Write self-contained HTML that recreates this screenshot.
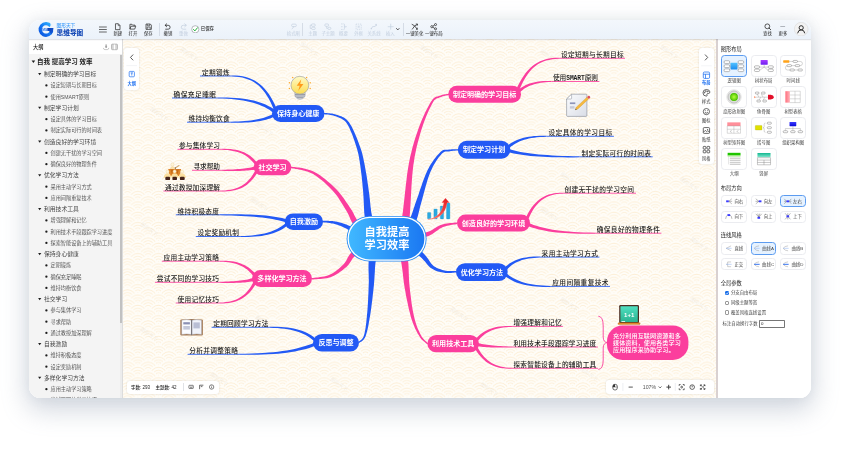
<!DOCTYPE html><html lang="zh-CN"><head><meta charset="utf-8"><title>思维导图</title><style>
*{box-sizing:border-box;margin:0;padding:0}
html,body{width:841px;height:449px;background:#fff;overflow:hidden}
body{font-family:'Liberation Sans','Noto Sans CJK SC',sans-serif;position:relative;color:#222}
.win{position:absolute;left:29px;top:19.5px;width:782px;height:378.7px;border-radius:11.5px;overflow:hidden;background:#fff;z-index:2}
.shadow{position:absolute;left:29px;top:19.5px;width:782px;height:378.7px;border-radius:11.5px;box-shadow:0 10px 26px 2px rgba(118,134,158,.33),0 0 12px rgba(130,145,170,.10);z-index:1}
.in{position:absolute;left:-29px;top:-19.5px;width:841px;height:449px;will-change:transform}
.a{position:absolute}
.tb{left:29px;top:19.5px;width:782px;height:19.7px;background:linear-gradient(#f3f7fc,#ebf2fa)}
.tbl{position:absolute;top:31.2px;width:30px;margin-left:-15px;text-align:center;font-size:4.4px;line-height:5px;color:#1d1d1d;white-space:nowrap}
.tbl.dis{color:#c3cfdf}
.ico{position:absolute;top:22.5px;width:7.4px;height:7.4px;margin-left:-3.7px}
.ico svg{width:7.4px;height:7.4px;display:block;overflow:visible}
.vd{position:absolute;top:22.5px;width:0.6px;height:13px;background:#d5dce6}
.lp{left:29px;top:39.4px;width:93px;height:360px;background:#f4f4f4}
.lph{left:29px;top:39.4px;width:93px;height:14.8px;background:#fff}
.row{position:absolute;white-space:nowrap;line-height:10px;height:10px}
.r0{font-size:6.5px;font-weight:700;color:#1a1a1a;left:37px}
.r1{font-size:5.8px;color:#444;left:44px}
.r2{font-size:5.15px;color:#555;left:50.6px}
.tri{position:absolute;width:0;height:0;border-left:1.7px solid transparent;border-right:1.7px solid transparent;border-top:2.6px solid #1f1f1f}
.dot{position:absolute;width:2.2px;height:2.2px;border-radius:50%;background:#1f1f1f}
.rp{left:717.8px;top:39.4px;width:94px;height:360px;background:#fff}
.h{position:absolute;left:720.7px;font-size:5.25px;font-weight:400;color:#222;line-height:7px;white-space:nowrap}
.tile{position:absolute;width:25.8px;height:21.8px;border:0.6px solid #ebecf0;border-radius:3.6px;background:#fff}
.tile.sel{border-color:#5b9bf0;background:#e6f2ff;border-width:0.8px}
.tile svg{position:absolute;left:0;top:0;width:100%;height:100%}
.tl{position:absolute;width:40px;margin-left:-20px;text-align:center;font-size:4.4px;line-height:5px;color:#444;white-space:nowrap}
.btn{position:absolute;width:25.8px;height:12.4px;border:0.6px solid #ebecf0;border-radius:3.4px;background:#fff;font-size:4.4px;line-height:5px;color:#444;white-space:nowrap;display:flex;align-items:center;justify-content:center;gap:1.6px}
.btn.sel{border-color:#5b9bf0;background:#e6f2ff;border-width:0.8px}
.btn svg{width:7.6px;height:6.65px;overflow:visible;flex:none}
.cb{position:absolute;left:724.5px;width:4.3px;height:4.3px;border:0.45px solid #9a9a9a;border-radius:1px;background:#fff}
.cb.on{background:#1a6fe8;border-color:#1a6fe8}
.cbl{position:absolute;left:730.9px;font-size:4.4px;line-height:5px;color:#444;white-space:nowrap}
.card{position:absolute;background:#fff;border-radius:3px;box-shadow:0 0 2px rgba(0,0,0,.16)}
.sl{position:absolute;width:20px;margin-left:-10px;text-align:center;font-size:4.2px;line-height:5px;color:#2a2a2a;white-space:nowrap}
svg text.kt{font-size:6.7px;font-weight:500;fill:#1c1c1c;font-family:'Liberation Sans','Noto Sans CJK SC',sans-serif}
svg text.pt{font-size:7.05px;font-weight:700;fill:#fff;font-family:'Liberation Sans','Noto Sans CJK SC',sans-serif}
svg text.st{font-size:6.1px;font-weight:500;fill:#fff;font-family:'Liberation Sans','Noto Sans CJK SC',sans-serif}
svg text.rt{font-size:11.2px;font-weight:700;fill:#fff;font-family:'Liberation Sans','Noto Sans CJK SC',sans-serif}
</style></head><body>
<div class="shadow"></div><div class="win"><div class="in">
<svg class="a" style="left:0;top:0" width="841" height="449" viewBox="0 0 841 449">
<defs>
<pattern id="wv" width="20.7" height="10.35" patternUnits="userSpaceOnUse" x="3.3" y="3">
<rect width="20.7" height="10.35" fill="#fdedd2"/>
<g fill="#fdedd2" stroke="#fffdf8" stroke-width="1.85">

<circle cx="10.35" cy="0.00" r="9.55"/>
<circle cx="10.35" cy="0.00" r="6.90"/>
<circle cx="10.35" cy="0.00" r="4.25"/>
<circle cx="10.35" cy="0.00" r="1.60"/>
<circle cx="0.00" cy="5.17" r="9.55"/>
<circle cx="0.00" cy="5.17" r="6.90"/>
<circle cx="0.00" cy="5.17" r="4.25"/>
<circle cx="0.00" cy="5.17" r="1.60"/>
<circle cx="20.70" cy="5.17" r="9.55"/>
<circle cx="20.70" cy="5.17" r="6.90"/>
<circle cx="20.70" cy="5.17" r="4.25"/>
<circle cx="20.70" cy="5.17" r="1.60"/>
<circle cx="10.35" cy="10.35" r="9.55"/>
<circle cx="10.35" cy="10.35" r="6.90"/>
<circle cx="10.35" cy="10.35" r="4.25"/>
<circle cx="10.35" cy="10.35" r="1.60"/>
<circle cx="0.00" cy="15.52" r="9.55"/>
<circle cx="0.00" cy="15.52" r="6.90"/>
<circle cx="0.00" cy="15.52" r="4.25"/>
<circle cx="0.00" cy="15.52" r="1.60"/>
<circle cx="20.70" cy="15.52" r="9.55"/>
<circle cx="20.70" cy="15.52" r="6.90"/>
<circle cx="20.70" cy="15.52" r="4.25"/>
<circle cx="20.70" cy="15.52" r="1.60"/>
<circle cx="10.35" cy="20.70" r="9.55"/>
<circle cx="10.35" cy="20.70" r="6.90"/>
<circle cx="10.35" cy="20.70" r="4.25"/>
<circle cx="10.35" cy="20.70" r="1.60"/>
</g></pattern>
<linearGradient id="rootg" x1="0" x2="1" y1="0" y2="0"><stop offset="0" stop-color="#40b8ff"/><stop offset="1" stop-color="#1b78f2"/></linearGradient>
<linearGradient id="bulbg" x1="0" x2="0" y1="0" y2="1"><stop offset="0" stop-color="#fffac8"/><stop offset="1" stop-color="#fbdc52"/></linearGradient>
<linearGradient id="pageg" x1="0" x2="1" y1="0" y2="1"><stop offset="0" stop-color="#fbfcfe"/><stop offset="1" stop-color="#d9dde6"/></linearGradient>
<linearGradient id="bbg" x1="0" x2="0" y1="0" y2="1"><stop offset="0" stop-color="#4fe0c0"/><stop offset="1" stop-color="#2bb391"/></linearGradient>
<linearGradient id="arrg" x1="0" x2="1" y1="1" y2="0"><stop offset="0" stop-color="#ff7a6a"/><stop offset="1" stop-color="#e3161c"/></linearGradient>
</defs>
<rect x="122" y="39" width="594" height="360" fill="url(#wv)"/>
<g fill="#c9c4bc" opacity="0.16" font-size="5" font-weight="700" font-family="'Liberation Sans','Noto Sans CJK SC',sans-serif">
<text transform="translate(180,50) rotate(35)">图形天下</text>
<text transform="translate(300,45) rotate(35)">图形天下</text>
<text transform="translate(420,48) rotate(35)">图形天下</text>
<text transform="translate(540,52) rotate(35)">图形天下</text>
<text transform="translate(660,48) rotate(35)">图形天下</text>
<text transform="translate(150,110) rotate(35)">图形天下</text>
<text transform="translate(255,125) rotate(35)">图形天下</text>
<text transform="translate(700,110) rotate(35)">图形天下</text>
<text transform="translate(330,185) rotate(35)">图形天下</text>
<text transform="translate(560,175) rotate(35)">图形天下</text>
<text transform="translate(680,180) rotate(35)">图形天下</text>
<text transform="translate(140,225) rotate(35)">图形天下</text>
<text transform="translate(250,200) rotate(35)">图形天下</text>
<text transform="translate(540,210) rotate(35)">图形天下</text>
<text transform="translate(690,240) rotate(35)">图形天下</text>
<text transform="translate(140,330) rotate(35)">图形天下</text>
<text transform="translate(255,318) rotate(35)">图形天下</text>
<text transform="translate(330,260) rotate(35)">图形天下</text>
<text transform="translate(450,310) rotate(35)">图形天下</text>
<text transform="translate(560,300) rotate(35)">图形天下</text>
<text transform="translate(690,300) rotate(35)">图形天下</text>
<text transform="translate(210,375) rotate(35)">图形天下</text>
<text transform="translate(330,380) rotate(35)">图形天下</text>
<text transform="translate(480,385) rotate(35)">图形天下</text>
<text transform="translate(580,370) rotate(35)">图形天下</text>
</g>
<path d="M378.6,238.9 L378.1,237.4 L377.5,235.6 L376.8,233.4 L376.1,231.0 L375.3,228.3 L374.5,225.6 L373.7,222.9 L373.0,220.2 L372.4,217.7 L371.9,215.4 L371.5,213.3 L371.1,211.2 L370.9,209.1 L370.6,207.1 L370.4,205.1 L370.2,203.0 L370.0,200.9 L369.8,198.7 L369.5,196.5 L369.3,194.2 L368.9,191.8 L368.6,189.4 L368.3,187.0 L367.9,184.5 L367.5,182.0 L367.2,179.4 L366.8,176.9 L366.4,174.4 L365.9,172.0 L365.5,169.6 L365.1,167.4 L364.7,165.1 L364.3,163.0 L363.8,160.8 L363.4,158.6 L362.9,156.5 L362.4,154.3 L361.8,152.1 L361.1,149.8 L360.3,147.5 L359.4,145.0 L358.5,142.4 L357.4,139.6 L356.3,136.8 L355.1,134.0 L353.9,131.3 L352.7,128.7 L351.5,126.3 L350.2,124.2 L349.0,122.3 L347.7,120.8 L346.5,119.5 L345.2,118.4 L343.9,117.6 L342.5,116.9 L341.3,116.3 L340.0,115.9 L338.7,115.5 L337.5,115.1 L336.3,114.7 L335.0,114.2 L333.6,113.9 L332.2,113.6 L330.7,113.4 L329.3,113.3 L328.0,113.2 L326.8,113.1 L325.7,113.0 L324.8,112.9 L324.1,112.9 L323.9,114.1 L324.6,114.3 L325.6,114.4 L326.7,114.5 L327.9,114.6 L329.2,114.8 L330.5,115.0 L331.9,115.2 L333.2,115.5 L334.5,115.9 L335.7,116.3 L336.9,116.8 L338.1,117.3 L339.3,117.7 L340.5,118.2 L341.6,118.7 L342.7,119.4 L343.8,120.2 L344.9,121.1 L346.0,122.3 L347.0,123.7 L348.1,125.4 L349.2,127.5 L350.2,129.9 L351.3,132.4 L352.4,135.1 L353.4,137.9 L354.4,140.7 L355.3,143.5 L356.1,146.1 L356.9,148.5 L357.5,150.8 L358.1,153.0 L358.6,155.2 L359.0,157.3 L359.3,159.4 L359.7,161.5 L360.0,163.7 L360.3,165.8 L360.6,168.1 L360.9,170.4 L361.2,172.7 L361.5,175.1 L361.8,177.6 L362.0,180.1 L362.3,182.6 L362.5,185.1 L362.7,187.6 L363.0,190.1 L363.2,192.5 L363.3,194.8 L363.5,197.0 L363.6,199.2 L363.7,201.3 L363.8,203.4 L363.9,205.5 L364.0,207.6 L364.1,209.8 L364.2,212.0 L364.4,214.3 L364.7,216.6 L365.1,219.1 L365.6,221.8 L366.1,224.7 L366.7,227.5 L367.3,230.3 L367.8,233.1 L368.4,235.6 L368.8,237.8 L369.2,239.7 L369.4,241.1Z" fill="#2259f5"/>
<path d="M406.7,240.8 L406.8,239.5 L407.0,238.0 L407.2,236.3 L407.5,234.2 L407.9,232.0 L408.2,229.4 L408.6,226.6 L409.0,223.5 L409.3,220.1 L409.7,216.4 L410.0,212.3 L410.3,207.6 L410.6,202.5 L410.9,197.1 L411.2,191.5 L411.5,185.9 L411.9,180.3 L412.3,175.0 L412.8,169.9 L413.3,165.4 L414.0,161.2 L414.6,157.1 L415.4,153.3 L416.1,149.6 L416.9,146.0 L417.8,142.5 L418.7,139.2 L419.6,135.9 L420.5,132.7 L421.5,129.5 L422.5,126.4 L423.6,123.2 L424.8,120.1 L426.0,117.0 L427.2,114.1 L428.4,111.3 L429.6,108.7 L430.8,106.4 L431.9,104.3 L432.9,102.5 L433.7,101.1 L434.5,100.1 L435.3,99.4 L435.9,98.9 L436.6,98.5 L437.2,98.3 L437.9,98.1 L438.6,97.9 L439.4,97.6 L440.3,97.3 L441.2,96.9 L442.1,96.6 L443.1,96.3 L444.1,96.0 L445.1,95.8 L446.1,95.6 L447.1,95.4 L447.9,95.2 L448.6,95.1 L449.1,94.9 L448.9,93.7 L448.3,93.8 L447.6,93.9 L446.8,94.0 L445.9,94.2 L444.9,94.3 L443.8,94.6 L442.7,94.8 L441.7,95.1 L440.6,95.4 L439.7,95.7 L438.9,96.0 L438.2,96.2 L437.4,96.4 L436.7,96.6 L435.8,96.9 L435.0,97.3 L434.1,98.0 L433.1,98.8 L432.2,100.0 L431.1,101.5 L430.0,103.3 L428.8,105.4 L427.6,107.7 L426.3,110.3 L424.9,113.1 L423.6,116.0 L422.2,119.0 L420.9,122.2 L419.7,125.3 L418.5,128.5 L417.4,131.7 L416.3,134.9 L415.2,138.2 L414.2,141.5 L413.2,145.0 L412.2,148.6 L411.3,152.4 L410.3,156.3 L409.5,160.3 L408.7,164.6 L407.9,169.3 L407.1,174.4 L406.5,179.8 L405.8,185.4 L405.2,191.0 L404.6,196.6 L404.0,201.9 L403.4,207.0 L402.9,211.6 L402.3,215.6 L401.8,219.1 L401.2,222.3 L400.6,225.3 L400.1,228.0 L399.5,230.4 L399.0,232.6 L398.5,234.6 L398.1,236.3 L397.7,237.8 L397.3,239.2Z" fill="#fb3e9d"/>
<path d="M408.1,241.9 L408.5,240.6 L409.1,238.9 L409.9,236.9 L410.8,234.6 L411.8,232.2 L412.8,229.7 L413.8,227.2 L414.8,224.7 L415.7,222.4 L416.5,220.2 L417.1,218.2 L417.7,216.4 L418.2,214.7 L418.6,213.0 L419.0,211.4 L419.4,209.7 L419.8,208.0 L420.3,206.1 L420.9,204.1 L421.5,201.8 L422.2,199.2 L423.0,196.3 L423.8,193.2 L424.7,189.9 L425.6,186.6 L426.6,183.3 L427.5,180.1 L428.5,177.1 L429.5,174.2 L430.5,171.7 L431.6,169.4 L432.7,167.1 L433.8,165.0 L435.0,163.0 L436.2,161.0 L437.4,159.3 L438.6,157.6 L439.7,156.2 L440.8,154.9 L441.8,153.8 L442.6,152.9 L443.4,152.4 L444.1,152.0 L444.7,151.8 L445.3,151.6 L445.9,151.6 L446.6,151.6 L447.4,151.6 L448.3,151.5 L449.1,151.4 L450.0,151.2 L451.0,151.1 L452.0,150.9 L453.0,150.8 L454.0,150.7 L455.0,150.7 L456.0,150.6 L456.8,150.5 L457.5,150.5 L458.0,150.4 L458.0,149.2 L457.4,149.2 L456.7,149.2 L455.9,149.2 L455.0,149.2 L454.0,149.2 L452.9,149.3 L451.8,149.3 L450.8,149.4 L449.8,149.5 L448.9,149.6 L448.1,149.7 L447.4,149.7 L446.7,149.7 L445.9,149.7 L445.1,149.7 L444.2,149.8 L443.3,150.1 L442.3,150.6 L441.3,151.3 L440.2,152.2 L439.1,153.4 L437.9,154.7 L436.7,156.1 L435.4,157.7 L434.0,159.5 L432.7,161.4 L431.3,163.5 L430.0,165.6 L428.7,167.9 L427.5,170.3 L426.3,172.9 L425.1,175.8 L423.9,178.9 L422.7,182.1 L421.6,185.4 L420.5,188.6 L419.4,191.8 L418.4,194.9 L417.4,197.7 L416.5,200.2 L415.7,202.5 L415.0,204.5 L414.4,206.4 L413.8,208.1 L413.3,209.8 L412.8,211.3 L412.3,212.8 L411.7,214.4 L411.1,216.1 L410.3,217.8 L409.5,219.8 L408.4,222.0 L407.3,224.3 L406.1,226.7 L404.9,229.0 L403.7,231.3 L402.6,233.4 L401.5,235.3 L400.6,236.9 L399.9,238.1Z" fill="#2259f5"/>
<path d="M376.6,237.1 L375.4,236.2 L373.8,235.0 L372.0,233.5 L370.0,231.8 L367.8,230.1 L365.7,228.2 L363.5,226.4 L361.6,224.6 L359.9,223.0 L358.5,221.5 L357.4,220.3 L356.6,219.2 L355.9,218.1 L355.3,217.1 L354.8,216.0 L354.2,214.9 L353.6,213.6 L352.9,212.3 L352.1,210.8 L351.1,209.2 L349.9,207.5 L348.8,205.7 L347.5,203.8 L346.1,201.9 L344.7,199.8 L343.3,197.8 L341.8,195.7 L340.2,193.7 L338.6,191.8 L337.0,190.0 L335.3,188.2 L333.5,186.4 L331.7,184.7 L329.7,183.0 L327.8,181.4 L325.9,179.8 L324.0,178.3 L322.2,176.9 L320.4,175.6 L318.8,174.5 L317.2,173.5 L315.8,172.7 L314.4,171.9 L313.0,171.3 L311.7,170.8 L310.4,170.3 L309.2,169.9 L307.9,169.5 L306.6,169.2 L305.3,168.8 L303.8,168.4 L302.2,168.1 L300.6,167.8 L298.9,167.6 L297.3,167.4 L295.8,167.2 L294.3,167.0 L293.0,166.9 L291.9,166.8 L291.1,166.7 L290.9,168.1 L291.7,168.3 L292.8,168.5 L294.1,168.6 L295.5,168.9 L297.1,169.1 L298.7,169.4 L300.3,169.7 L301.8,170.0 L303.3,170.4 L304.7,170.8 L306.0,171.2 L307.3,171.6 L308.5,172.0 L309.7,172.5 L310.8,173.0 L312.0,173.5 L313.2,174.1 L314.5,174.9 L315.8,175.7 L317.2,176.7 L318.8,177.9 L320.4,179.2 L322.1,180.6 L323.9,182.1 L325.7,183.7 L327.5,185.4 L329.3,187.2 L331.0,188.9 L332.7,190.7 L334.2,192.4 L335.7,194.2 L337.1,196.1 L338.5,198.1 L339.8,200.2 L341.1,202.2 L342.4,204.3 L343.6,206.3 L344.8,208.2 L345.9,210.1 L346.9,211.8 L347.8,213.3 L348.4,214.6 L349.0,215.8 L349.5,217.0 L350.0,218.2 L350.5,219.5 L351.2,220.8 L351.9,222.2 L352.9,223.7 L354.1,225.3 L355.6,227.0 L357.3,228.9 L359.3,230.9 L361.3,232.9 L363.4,235.0 L365.4,236.9 L367.3,238.8 L369.0,240.4 L370.4,241.8 L371.4,242.9Z" fill="#fb3e9d"/>
<path d="M367.8,235.0 L366.7,234.6 L365.3,233.9 L363.7,233.1 L361.9,232.1 L359.9,231.1 L357.9,230.0 L355.9,229.0 L353.9,228.0 L352.2,227.1 L350.6,226.4 L349.2,225.7 L347.8,225.2 L346.6,224.6 L345.4,224.2 L344.2,223.8 L343.1,223.4 L342.0,223.1 L341.0,222.8 L340.0,222.5 L338.9,222.2 L337.9,221.9 L337.0,221.7 L336.0,221.5 L335.1,221.4 L334.3,221.3 L333.4,221.2 L332.6,221.1 L331.8,221.0 L331.0,221.0 L330.1,220.9 L329.2,220.9 L328.3,220.8 L327.4,220.8 L326.4,220.8 L325.5,220.8 L324.6,220.8 L323.8,220.8 L323.1,220.8 L322.5,220.8 L322.0,220.8 L322.0,222.2 L322.4,222.3 L323.0,222.3 L323.8,222.4 L324.6,222.5 L325.4,222.5 L326.3,222.6 L327.2,222.7 L328.2,222.8 L329.0,223.0 L329.9,223.1 L330.7,223.2 L331.5,223.4 L332.3,223.5 L333.1,223.6 L333.8,223.8 L334.6,224.0 L335.5,224.2 L336.3,224.4 L337.2,224.7 L338.1,225.0 L339.0,225.4 L340.0,225.7 L340.9,226.1 L341.9,226.5 L342.9,227.0 L343.9,227.5 L345.0,228.0 L346.2,228.6 L347.4,229.3 L348.6,230.0 L350.0,230.9 L351.7,232.0 L353.4,233.1 L355.3,234.4 L357.1,235.7 L358.9,237.0 L360.5,238.2 L362.0,239.3 L363.3,240.2 L364.2,241.0Z" fill="#2259f5"/>
<path d="M410.7,241.2 L411.7,240.9 L413.0,240.5 L414.7,240.0 L416.6,239.6 L418.6,239.1 L420.7,238.5 L422.9,237.9 L424.9,237.3 L426.9,236.6 L428.7,235.9 L430.4,235.1 L432.0,234.3 L433.4,233.3 L434.8,232.3 L436.1,231.3 L437.4,230.4 L438.7,229.5 L439.9,228.6 L441.2,227.9 L442.5,227.3 L443.9,226.8 L445.5,226.3 L447.1,225.8 L448.8,225.5 L450.5,225.1 L452.2,224.8 L453.7,224.6 L455.1,224.4 L456.2,224.2 L457.1,224.0 L456.9,222.4 L456.0,222.5 L454.8,222.6 L453.5,222.8 L451.9,222.9 L450.2,223.1 L448.5,223.3 L446.7,223.5 L444.9,223.8 L443.2,224.2 L441.5,224.7 L440.0,225.3 L438.5,226.0 L437.0,226.8 L435.6,227.7 L434.2,228.5 L432.9,229.4 L431.5,230.2 L430.1,230.9 L428.7,231.5 L427.3,232.1 L425.6,232.5 L423.8,232.9 L421.8,233.3 L419.7,233.6 L417.6,233.9 L415.6,234.2 L413.7,234.4 L412.0,234.6 L410.5,234.7 L409.3,234.8Z" fill="#fb3e9d"/>
<path d="M371.8,236.7 L370.7,237.6 L369.2,238.8 L367.3,240.2 L365.1,241.7 L362.8,243.3 L360.5,245.0 L358.2,246.7 L356.0,248.4 L354.0,250.1 L352.3,251.6 L350.9,253.1 L349.7,254.5 L348.7,256.0 L347.9,257.3 L347.3,258.6 L346.6,259.9 L346.0,261.0 L345.3,262.1 L344.6,263.1 L343.6,264.2 L342.5,265.3 L341.2,266.5 L339.9,267.7 L338.5,268.9 L337.1,270.1 L335.6,271.2 L334.1,272.2 L332.6,273.2 L331.1,274.1 L329.5,274.8 L327.9,275.4 L326.1,276.0 L324.1,276.4 L322.0,276.8 L320.0,277.1 L318.0,277.4 L316.1,277.6 L314.4,277.8 L313.0,277.9 L311.9,278.1 L312.1,279.5 L313.2,279.4 L314.6,279.3 L316.2,279.2 L318.1,279.1 L320.2,279.0 L322.3,278.8 L324.4,278.6 L326.6,278.2 L328.6,277.8 L330.5,277.2 L332.2,276.5 L334.0,275.7 L335.7,274.8 L337.4,273.8 L339.0,272.7 L340.6,271.6 L342.1,270.4 L343.6,269.3 L345.0,268.1 L346.4,267.0 L347.6,265.8 L348.7,264.5 L349.6,263.3 L350.4,262.0 L351.1,260.9 L351.8,259.7 L352.6,258.6 L353.5,257.5 L354.5,256.5 L355.7,255.4 L357.3,254.2 L359.2,252.9 L361.5,251.5 L363.8,250.1 L366.3,248.7 L368.7,247.3 L371.0,246.1 L373.0,244.9 L374.8,244.0 L376.2,243.3Z" fill="#fb3e9d"/>
<path d="M371.2,239.1 L371.1,240.3 L370.9,241.9 L370.7,243.8 L370.4,245.9 L370.1,248.2 L369.7,250.6 L369.4,253.1 L369.1,255.7 L368.8,258.2 L368.7,260.6 L368.6,263.0 L368.5,265.3 L368.5,267.7 L368.5,270.0 L368.6,272.4 L368.7,274.8 L368.7,277.2 L368.8,279.7 L368.8,282.2 L368.7,284.8 L368.6,287.6 L368.5,290.6 L368.4,293.7 L368.2,296.8 L368.1,300.0 L367.9,303.2 L367.7,306.3 L367.5,309.3 L367.3,312.1 L367.0,314.8 L366.8,317.3 L366.5,319.8 L366.3,322.2 L366.0,324.5 L365.7,326.8 L365.4,328.9 L365.0,330.8 L364.7,332.6 L364.3,334.3 L363.8,335.7 L363.4,336.9 L362.8,337.9 L362.2,338.7 L361.6,339.4 L360.9,340.0 L360.3,340.5 L359.7,340.9 L359.1,341.3 L358.6,341.6 L358.2,342.0 L359.0,343.0 L359.4,342.7 L359.8,342.4 L360.4,342.1 L361.1,341.7 L361.9,341.2 L362.7,340.5 L363.5,339.7 L364.2,338.8 L364.9,337.7 L365.6,336.3 L366.1,334.8 L366.6,333.1 L367.1,331.3 L367.6,329.3 L368.0,327.2 L368.5,324.9 L368.9,322.6 L369.3,320.2 L369.7,317.7 L370.2,315.2 L370.6,312.5 L371.0,309.7 L371.4,306.7 L371.8,303.5 L372.2,300.4 L372.6,297.2 L372.9,294.0 L373.3,290.9 L373.6,288.0 L373.9,285.2 L374.1,282.5 L374.3,279.9 L374.5,277.3 L374.6,274.9 L374.8,272.5 L374.9,270.2 L375.0,267.9 L375.2,265.7 L375.4,263.5 L375.7,261.4 L376.1,259.2 L376.6,256.9 L377.1,254.5 L377.7,252.1 L378.2,249.8 L378.8,247.6 L379.4,245.6 L379.9,243.7 L380.4,242.2 L380.8,240.9Z" fill="#2259f5"/>
<path d="M395.3,241.1 L395.8,242.3 L396.3,243.8 L396.9,245.6 L397.5,247.6 L398.1,249.8 L398.8,252.0 L399.4,254.4 L400.1,256.8 L400.6,259.2 L401.1,261.5 L401.5,263.9 L401.9,266.3 L402.2,268.8 L402.6,271.5 L402.9,274.2 L403.2,276.9 L403.5,279.7 L403.8,282.6 L404.3,285.5 L404.7,288.3 L405.3,291.3 L405.8,294.4 L406.4,297.5 L407.1,300.7 L407.8,303.9 L408.4,307.1 L409.1,310.1 L409.9,313.1 L410.6,315.9 L411.3,318.4 L412.1,320.8 L412.9,323.0 L413.7,325.1 L414.5,327.0 L415.3,328.9 L416.2,330.6 L417.0,332.2 L417.8,333.7 L418.7,335.1 L419.5,336.5 L420.3,337.7 L421.2,338.9 L422.2,339.9 L423.1,340.8 L424.0,341.6 L424.9,342.3 L425.7,342.9 L426.3,343.4 L426.9,343.9 L427.4,344.3 L428.2,343.3 L427.8,342.9 L427.2,342.4 L426.5,341.8 L425.8,341.2 L425.0,340.5 L424.2,339.7 L423.4,338.8 L422.6,337.8 L421.8,336.7 L421.1,335.5 L420.4,334.2 L419.7,332.8 L419.0,331.2 L418.2,329.6 L417.5,327.9 L416.8,326.1 L416.1,324.1 L415.5,322.1 L414.9,319.9 L414.3,317.6 L413.7,315.1 L413.2,312.4 L412.6,309.4 L412.1,306.4 L411.6,303.2 L411.2,300.0 L410.8,296.8 L410.4,293.6 L410.0,290.6 L409.7,287.7 L409.4,284.8 L409.2,282.0 L409.0,279.3 L408.9,276.5 L408.8,273.7 L408.7,271.0 L408.6,268.3 L408.5,265.6 L408.3,263.0 L408.1,260.5 L407.8,257.9 L407.4,255.4 L407.0,252.8 L406.6,250.3 L406.1,247.9 L405.7,245.6 L405.3,243.5 L405.0,241.7 L404.8,240.1 L404.7,238.9Z" fill="#fb3e9d"/>
<path d="M399.6,243.2 L401.0,244.0 L402.7,245.0 L404.8,246.3 L407.0,247.7 L409.4,249.2 L411.9,250.8 L414.3,252.4 L416.5,254.0 L418.5,255.5 L420.2,256.8 L421.6,258.0 L422.8,259.2 L423.9,260.4 L425.0,261.6 L425.9,262.8 L426.9,264.0 L427.9,265.2 L428.9,266.3 L430.1,267.4 L431.3,268.3 L432.6,269.1 L433.9,269.8 L435.2,270.4 L436.5,270.9 L437.8,271.4 L439.1,271.7 L440.4,272.0 L441.7,272.3 L442.9,272.5 L444.2,272.7 L445.5,272.9 L446.9,273.0 L448.4,273.0 L449.8,272.9 L451.2,272.9 L452.5,272.8 L453.7,272.7 L454.8,272.6 L455.7,272.5 L456.4,272.5 L456.4,271.1 L455.7,271.1 L454.7,271.1 L453.6,271.1 L452.4,271.1 L451.1,271.1 L449.8,271.1 L448.4,271.0 L447.1,270.9 L445.8,270.7 L444.6,270.5 L443.4,270.2 L442.2,269.9 L441.1,269.5 L439.9,269.1 L438.7,268.7 L437.6,268.2 L436.4,267.7 L435.4,267.1 L434.3,266.4 L433.3,265.7 L432.4,264.8 L431.6,263.9 L430.8,262.9 L430.0,261.7 L429.1,260.5 L428.2,259.1 L427.2,257.7 L426.1,256.3 L424.8,254.8 L423.4,253.2 L421.7,251.6 L419.7,249.9 L417.6,248.1 L415.3,246.2 L413.1,244.3 L410.8,242.4 L408.8,240.7 L407.0,239.2 L405.5,237.9 L404.4,236.8Z" fill="#2259f5"/>
<path d="M232.0,76.5 L235.6,76.7 L239.1,77.0 L242.3,77.6 L245.4,78.4 L248.3,79.4 L251.1,80.6 L253.7,82.1 L256.2,83.7 L258.6,85.6 L260.8,87.8 L263.0,90.2 L265.0,92.8 L266.9,95.7 L268.8,98.8 L270.6,102.2 L272.3,105.9 L273.9,109.9 L275.5,114.1 L278.5,112.9 L276.8,108.7 L274.9,104.7 L273.0,101.0 L271.0,97.5 L269.0,94.3 L266.9,91.4 L264.6,88.7 L262.3,86.3 L259.9,84.2 L257.3,82.3 L254.6,80.6 L251.8,79.2 L248.9,78.0 L245.8,77.0 L242.6,76.3 L239.2,75.8 L235.7,75.5 L232.0,75.5Z" fill="#2259f5"/>
<rect x="200.0" y="75.50" width="32.0" height="1" fill="#2259f5" opacity="0.85"/>
<text x="202.0" y="74.8" textLength="27.6" lengthAdjust="spacing" class="kt">定期锻炼</text>
<path d="M217.5,98.5 L222.3,98.6 L226.9,98.8 L231.3,99.1 L235.4,99.5 L239.4,99.9 L243.1,100.5 L246.7,101.2 L250.0,101.9 L253.2,102.8 L256.2,103.7 L259.1,104.7 L261.9,105.9 L264.5,107.1 L267.0,108.4 L269.4,109.8 L271.6,111.4 L273.8,113.0 L276.0,114.8 L278.0,112.2 L275.7,110.5 L273.3,108.8 L270.9,107.3 L268.3,105.9 L265.6,104.6 L262.9,103.5 L260.0,102.4 L256.9,101.5 L253.8,100.6 L250.5,99.9 L247.0,99.2 L243.4,98.7 L239.6,98.3 L235.6,97.9 L231.4,97.7 L227.0,97.5 L222.3,97.5 L217.5,97.5Z" fill="#2259f5"/>
<rect x="172.0" y="97.50" width="45.5" height="1" fill="#2259f5" opacity="0.85"/>
<text x="173.5" y="96.8" textLength="42.5" lengthAdjust="spacing" class="kt">确保充足睡眠</text>
<path d="M231.0,122.7 L234.7,122.8 L238.3,122.7 L241.7,122.7 L245.0,122.6 L248.1,122.4 L251.0,122.2 L253.8,121.9 L256.5,121.6 L259.0,121.2 L261.5,120.8 L263.8,120.3 L266.1,119.7 L268.2,119.1 L270.3,118.4 L272.3,117.6 L274.2,116.8 L276.1,115.9 L277.8,114.9 L276.2,112.1 L274.5,113.1 L272.8,114.0 L271.1,114.9 L269.2,115.7 L267.3,116.5 L265.3,117.2 L263.2,117.9 L261.0,118.5 L258.6,119.0 L256.1,119.5 L253.5,120.0 L250.8,120.4 L247.9,120.7 L244.9,121.0 L241.7,121.3 L238.3,121.5 L234.7,121.6 L231.0,121.7Z" fill="#2259f5"/>
<rect x="187.0" y="121.70" width="44.0" height="1" fill="#2259f5" opacity="0.85"/>
<text x="188.5" y="121.0" textLength="41.1" lengthAdjust="spacing" class="kt">维持均衡饮食</text>
<path d="M222.0,149.8 L225.0,149.9 L227.8,150.1 L230.4,150.4 L232.9,150.9 L235.3,151.4 L237.6,152.0 L239.7,152.7 L241.8,153.6 L243.7,154.5 L245.5,155.6 L247.2,156.7 L248.8,158.0 L250.4,159.4 L251.9,160.9 L253.3,162.5 L254.6,164.3 L256.0,166.2 L257.2,168.2 L260.0,166.4 L258.5,164.4 L257.0,162.4 L255.4,160.7 L253.8,159.0 L252.1,157.5 L250.4,156.1 L248.5,154.8 L246.6,153.7 L244.6,152.6 L242.5,151.7 L240.3,151.0 L238.1,150.3 L235.7,149.8 L233.2,149.4 L230.6,149.1 L227.9,148.9 L225.0,148.8 L222.0,148.8Z" fill="#fb3e9d"/>
<rect x="177.5" y="148.80" width="44.5" height="1" fill="#fb3e9d" opacity="0.85"/>
<text x="179.0" y="148.1" textLength="41.0" lengthAdjust="spacing" class="kt">参与集体学习</text>
<path d="M222.0,170.8 L225.0,170.9 L227.8,170.9 L230.5,170.9 L233.1,171.0 L235.5,170.9 L237.9,170.9 L240.1,170.9 L242.2,170.8 L244.2,170.7 L246.2,170.6 L248.0,170.5 L249.8,170.3 L251.5,170.1 L253.1,169.9 L254.6,169.7 L256.1,169.5 L257.6,169.2 L259.0,168.9 L258.2,165.7 L256.9,166.1 L255.5,166.4 L254.1,166.8 L252.6,167.1 L251.1,167.4 L249.4,167.7 L247.7,168.0 L245.9,168.2 L244.0,168.5 L242.1,168.7 L240.0,168.9 L237.8,169.1 L235.5,169.2 L233.0,169.4 L230.5,169.5 L227.8,169.6 L225.0,169.7 L222.0,169.8Z" fill="#fb3e9d"/>
<rect x="192.0" y="169.80" width="30.0" height="1" fill="#fb3e9d" opacity="0.85"/>
<text x="193.5" y="169.1" textLength="26.5" lengthAdjust="spacing" class="kt">寻求帮助</text>
<path d="M222.0,191.5 L225.0,191.5 L227.9,191.3 L230.6,191.1 L233.2,190.6 L235.7,190.1 L238.1,189.3 L240.4,188.5 L242.6,187.4 L244.7,186.2 L246.7,184.9 L248.6,183.3 L250.5,181.6 L252.2,179.8 L253.9,177.8 L255.5,175.6 L257.1,173.2 L258.6,170.7 L260.1,168.0 L257.1,166.6 L255.9,169.2 L254.6,171.7 L253.2,174.0 L251.8,176.2 L250.3,178.2 L248.7,180.0 L247.1,181.7 L245.4,183.2 L243.6,184.5 L241.7,185.7 L239.7,186.8 L237.5,187.8 L235.3,188.6 L232.9,189.2 L230.4,189.7 L227.8,190.1 L225.0,190.4 L222.0,190.5Z" fill="#fb3e9d"/>
<rect x="163.4" y="190.50" width="58.6" height="1" fill="#fb3e9d" opacity="0.85"/>
<text x="165.0" y="189.8" textLength="55.0" lengthAdjust="spacing" class="kt">通过教授加深理解</text>
<path d="M220.0,215.3 L225.7,215.4 L231.1,215.5 L236.2,215.7 L241.1,215.9 L245.7,216.2 L250.1,216.4 L254.3,216.8 L258.3,217.2 L262.1,217.6 L265.7,218.0 L269.1,218.5 L272.4,219.1 L275.5,219.7 L278.4,220.3 L281.3,221.0 L284.0,221.7 L286.7,222.5 L289.2,223.3 L290.2,220.1 L287.5,219.4 L284.8,218.7 L282.0,218.1 L279.0,217.5 L276.0,216.9 L272.8,216.5 L269.4,216.0 L265.9,215.6 L262.3,215.3 L258.4,215.0 L254.4,214.8 L250.2,214.6 L245.8,214.4 L241.1,214.3 L236.2,214.3 L231.1,214.2 L225.7,214.2 L220.0,214.3Z" fill="#2259f5"/>
<rect x="175.8" y="214.30" width="44.2" height="1" fill="#2259f5" opacity="0.85"/>
<text x="177.5" y="213.6" textLength="41.5" lengthAdjust="spacing" class="kt">维持积极态度</text>
<path d="M240.3,237.0 L244.3,237.0 L248.2,237.0 L251.8,236.8 L255.3,236.6 L258.6,236.3 L261.8,235.9 L264.9,235.3 L267.7,234.7 L270.5,234.0 L273.1,233.2 L275.7,232.3 L278.1,231.3 L280.4,230.2 L282.7,228.9 L284.8,227.6 L286.9,226.1 L288.9,224.6 L290.8,222.9 L288.6,220.5 L286.8,222.2 L285.0,223.7 L283.1,225.2 L281.2,226.6 L279.1,227.8 L277.0,229.0 L274.7,230.1 L272.4,231.0 L269.9,231.9 L267.2,232.7 L264.5,233.4 L261.5,234.1 L258.4,234.6 L255.2,235.1 L251.7,235.4 L248.1,235.7 L244.3,235.9 L240.3,236.0Z" fill="#2259f5"/>
<rect x="195.8" y="236.00" width="44.5" height="1" fill="#2259f5" opacity="0.85"/>
<text x="197.5" y="235.3" textLength="41.5" lengthAdjust="spacing" class="kt">设定奖励机制</text>
<path d="M220.0,261.7 L223.0,261.8 L225.8,262.0 L228.5,262.3 L231.1,262.7 L233.5,263.2 L235.8,263.8 L237.9,264.5 L240.0,265.4 L241.9,266.3 L243.8,267.3 L245.5,268.4 L247.2,269.6 L248.7,271.0 L250.2,272.4 L251.7,274.0 L253.0,275.7 L254.4,277.5 L255.7,279.5 L258.3,277.5 L256.9,275.6 L255.4,273.8 L253.8,272.0 L252.1,270.4 L250.4,269.0 L248.6,267.6 L246.8,266.4 L244.9,265.3 L242.8,264.4 L240.7,263.5 L238.5,262.8 L236.2,262.1 L233.8,261.6 L231.3,261.2 L228.7,261.0 L225.9,260.8 L223.0,260.7 L220.0,260.7Z" fill="#fb3e9d"/>
<rect x="161.8" y="260.70" width="58.2" height="1" fill="#fb3e9d" opacity="0.85"/>
<text x="163.4" y="260.0" textLength="55.6" lengthAdjust="spacing" class="kt">应用主动学习策略</text>
<path d="M220.0,282.8 L223.0,282.9 L225.9,282.9 L228.6,282.9 L231.2,282.9 L233.7,282.9 L236.1,282.8 L238.3,282.8 L240.5,282.7 L242.5,282.5 L244.5,282.4 L246.3,282.2 L248.1,282.0 L249.8,281.7 L251.5,281.5 L253.1,281.2 L254.6,280.8 L256.1,280.5 L257.5,280.1 L256.5,276.9 L255.2,277.4 L253.8,277.8 L252.4,278.3 L250.9,278.6 L249.3,279.0 L247.7,279.4 L246.0,279.7 L244.2,280.0 L242.3,280.3 L240.3,280.5 L238.2,280.8 L236.0,281.0 L233.6,281.2 L231.2,281.3 L228.6,281.5 L225.9,281.6 L223.0,281.7 L220.0,281.8Z" fill="#fb3e9d"/>
<rect x="155.0" y="281.80" width="65.0" height="1" fill="#fb3e9d" opacity="0.85"/>
<text x="156.8" y="281.1" textLength="62.2" lengthAdjust="spacing" class="kt">尝试不同的学习技巧</text>
<path d="M220.0,303.5 L223.0,303.5 L225.9,303.3 L228.7,303.0 L231.4,302.6 L233.9,302.0 L236.3,301.2 L238.6,300.3 L240.8,299.3 L242.9,298.0 L245.0,296.6 L246.9,295.0 L248.8,293.3 L250.5,291.4 L252.3,289.3 L253.9,287.0 L255.5,284.6 L257.0,282.0 L258.5,279.2 L255.5,277.8 L254.2,280.5 L252.9,283.1 L251.5,285.5 L250.1,287.7 L248.6,289.8 L247.0,291.7 L245.4,293.4 L243.6,294.9 L241.8,296.3 L239.9,297.6 L237.9,298.7 L235.7,299.7 L233.4,300.5 L231.0,301.2 L228.5,301.7 L225.8,302.1 L223.0,302.4 L220.0,302.5Z" fill="#fb3e9d"/>
<rect x="175.8" y="302.50" width="44.2" height="1" fill="#fb3e9d" opacity="0.85"/>
<text x="177.5" y="301.8" textLength="41.5" lengthAdjust="spacing" class="kt">使用记忆技巧</text>
<path d="M269.8,327.8 L273.7,327.9 L277.4,328.1 L280.9,328.4 L284.3,328.8 L287.5,329.2 L290.5,329.8 L293.3,330.4 L296.1,331.2 L298.6,332.0 L301.1,332.9 L303.4,334.0 L305.6,335.1 L307.7,336.3 L309.6,337.6 L311.5,339.1 L313.4,340.6 L315.1,342.2 L316.8,344.0 L319.2,341.6 L317.3,339.9 L315.3,338.2 L313.3,336.7 L311.2,335.3 L309.0,334.0 L306.7,332.8 L304.4,331.8 L301.9,330.8 L299.3,329.9 L296.6,329.2 L293.8,328.6 L290.8,328.0 L287.7,327.6 L284.5,327.2 L281.1,327.0 L277.5,326.8 L273.7,326.8 L269.8,326.8Z" fill="#2259f5"/>
<rect x="211.6" y="326.80" width="58.2" height="1" fill="#2259f5" opacity="0.85"/>
<text x="213.2" y="326.1" textLength="55.3" lengthAdjust="spacing" class="kt">定期回顾学习方法</text>
<path d="M239.2,354.8 L245.6,354.8 L251.7,354.8 L257.5,354.7 L263.1,354.6 L268.3,354.3 L273.4,354.0 L278.1,353.7 L282.7,353.2 L287.0,352.7 L291.2,352.1 L295.1,351.4 L298.9,350.6 L302.5,349.8 L306.0,348.9 L309.4,347.9 L312.6,346.8 L315.7,345.6 L318.7,344.3 L317.3,341.3 L314.4,342.6 L311.5,343.9 L308.4,345.0 L305.2,346.1 L301.8,347.1 L298.3,348.1 L294.6,348.9 L290.8,349.7 L286.7,350.5 L282.4,351.1 L277.9,351.7 L273.2,352.2 L268.2,352.6 L263.0,353.0 L257.5,353.3 L251.7,353.5 L245.6,353.7 L239.2,353.8Z" fill="#2259f5"/>
<rect x="187.6" y="353.80" width="51.6" height="1" fill="#2259f5" opacity="0.85"/>
<text x="189.3" y="353.1" textLength="48.6" lengthAdjust="spacing" class="kt">分析并调整策略</text>
<path d="M559.0,57.8 L555.5,57.8 L552.1,58.1 L548.9,58.6 L545.8,59.3 L542.9,60.2 L540.1,61.3 L537.4,62.7 L534.8,64.3 L532.4,66.1 L530.0,68.2 L527.8,70.5 L525.6,73.1 L523.6,75.9 L521.6,78.9 L519.8,82.2 L517.9,85.8 L516.2,89.6 L514.5,93.6 L517.5,94.9 L519.0,90.8 L520.6,87.0 L522.2,83.5 L523.9,80.2 L525.7,77.2 L527.5,74.4 L529.4,71.9 L531.5,69.6 L533.6,67.6 L535.9,65.8 L538.2,64.1 L540.7,62.8 L543.4,61.6 L546.2,60.6 L549.1,59.9 L552.2,59.3 L555.5,59.0 L559.0,58.8Z" fill="#fb3e9d"/>
<rect x="559.0" y="57.80" width="66.0" height="1" fill="#fb3e9d" opacity="0.85"/>
<text x="561.0" y="57.1" textLength="62.7" lengthAdjust="spacing" class="kt">设定短期与长期目标</text>
<path d="M551.4,81.0 L548.5,81.0 L545.7,81.0 L543.1,81.1 L540.6,81.3 L538.2,81.6 L535.9,81.9 L533.7,82.4 L531.6,82.9 L529.6,83.5 L527.7,84.2 L525.8,85.0 L524.1,85.9 L522.4,86.9 L520.7,87.9 L519.2,89.1 L517.6,90.4 L516.2,91.7 L514.8,93.1 L517.2,95.4 L518.5,93.9 L519.7,92.6 L521.0,91.3 L522.4,90.2 L523.8,89.1 L525.3,88.1 L526.9,87.2 L528.6,86.3 L530.4,85.5 L532.2,84.9 L534.2,84.2 L536.3,83.7 L538.5,83.2 L540.8,82.8 L543.2,82.5 L545.8,82.3 L548.5,82.1 L551.4,82.0Z" fill="#fb3e9d"/>
<rect x="551.4" y="81.00" width="48.0" height="1" fill="#fb3e9d" opacity="0.85"/>
<text x="553.0" y="80.3" textLength="45.0" lengthAdjust="spacing" class="kt">使用<tspan font-family="Liberation Mono,monospace" font-size="6.3" font-weight="700">SMART</tspan>原则</text>
<path d="M546.5,135.8 L543.1,135.8 L539.9,135.8 L536.9,135.9 L534.0,136.1 L531.2,136.4 L528.6,136.8 L526.0,137.3 L523.6,137.8 L521.3,138.5 L519.1,139.2 L517.0,140.0 L514.9,140.9 L513.0,142.0 L511.1,143.1 L509.3,144.3 L507.5,145.7 L505.8,147.1 L504.2,148.6 L506.6,150.9 L508.0,149.4 L509.5,148.0 L511.0,146.6 L512.6,145.4 L514.3,144.3 L516.1,143.2 L518.0,142.2 L519.9,141.3 L522.0,140.5 L524.2,139.8 L526.5,139.2 L528.9,138.6 L531.4,138.1 L534.2,137.7 L537.0,137.3 L540.0,137.1 L543.2,136.9 L546.5,136.8Z" fill="#2259f5"/>
<rect x="546.5" y="135.80" width="67.4" height="1" fill="#2259f5" opacity="0.85"/>
<text x="548.4" y="135.1" textLength="63.9" lengthAdjust="spacing" class="kt">设定具体的学习目标</text>
<path d="M579.6,156.3 L573.6,156.2 L567.8,156.1 L562.4,155.9 L557.2,155.7 L552.2,155.4 L547.6,155.1 L543.1,154.8 L538.9,154.4 L534.8,154.0 L531.0,153.5 L527.3,153.0 L523.8,152.5 L520.5,151.9 L517.3,151.2 L514.3,150.5 L511.4,149.8 L508.6,149.0 L505.9,148.2 L504.9,151.3 L507.7,152.1 L510.7,152.8 L513.7,153.4 L516.8,154.0 L520.1,154.6 L523.4,155.1 L527.0,155.5 L530.7,155.9 L534.6,156.3 L538.7,156.6 L543.0,156.8 L547.5,157.0 L552.2,157.2 L557.1,157.3 L562.3,157.3 L567.8,157.4 L573.6,157.4 L579.6,157.3Z" fill="#2259f5"/>
<rect x="579.6" y="156.30" width="73.1" height="1" fill="#2259f5" opacity="0.85"/>
<text x="581.5" y="155.6" textLength="69.5" lengthAdjust="spacing" class="kt">制定实际可行的时间表</text>
<path d="M562.9,192.7 L559.8,192.7 L556.8,192.9 L554.0,193.3 L551.3,193.9 L548.7,194.6 L546.2,195.6 L543.8,196.7 L541.5,198.0 L539.4,199.5 L537.3,201.2 L535.3,203.2 L533.4,205.3 L531.6,207.6 L529.8,210.2 L528.2,212.9 L526.6,215.9 L525.0,219.1 L523.5,222.4 L526.5,223.7 L527.8,220.3 L529.2,217.2 L530.6,214.2 L532.1,211.5 L533.6,209.0 L535.2,206.7 L536.9,204.7 L538.7,202.8 L540.6,201.1 L542.6,199.5 L544.6,198.2 L546.8,197.0 L549.2,196.1 L551.6,195.2 L554.2,194.6 L557.0,194.1 L559.8,193.8 L562.9,193.7Z" fill="#fb3e9d"/>
<rect x="562.9" y="192.70" width="73.1" height="1" fill="#fb3e9d" opacity="0.85"/>
<text x="564.4" y="192.0" textLength="69.6" lengthAdjust="spacing" class="kt">创建无干扰的学习空间</text>
<path d="M595.0,232.7 L589.3,232.6 L583.9,232.4 L578.8,232.2 L573.9,232.0 L569.2,231.6 L564.8,231.2 L560.6,230.8 L556.6,230.3 L552.8,229.7 L549.2,229.0 L545.8,228.3 L542.5,227.6 L539.4,226.7 L536.4,225.8 L533.6,224.9 L530.8,223.8 L528.2,222.7 L525.7,221.5 L524.3,224.6 L527.0,225.7 L529.8,226.7 L532.6,227.7 L535.6,228.6 L538.7,229.4 L541.9,230.1 L545.3,230.8 L548.8,231.4 L552.5,231.9 L556.3,232.4 L560.4,232.8 L564.6,233.1 L569.1,233.3 L573.8,233.5 L578.7,233.7 L583.9,233.7 L589.3,233.8 L595.0,233.7Z" fill="#fb3e9d"/>
<rect x="595.0" y="232.70" width="66.4" height="1" fill="#fb3e9d" opacity="0.85"/>
<text x="596.7" y="232.0" textLength="63.3" lengthAdjust="spacing" class="kt">确保良好的物理条件</text>
<path d="M540.0,256.6 L537.0,256.6 L534.0,256.6 L531.3,256.8 L528.6,257.0 L526.1,257.4 L523.7,257.8 L521.4,258.3 L519.1,258.9 L517.0,259.7 L515.0,260.5 L513.1,261.4 L511.2,262.5 L509.4,263.6 L507.7,264.9 L506.0,266.3 L504.4,267.8 L502.9,269.4 L501.4,271.1 L504.0,273.1 L505.3,271.4 L506.6,269.9 L508.0,268.4 L509.5,267.0 L511.0,265.8 L512.6,264.6 L514.2,263.5 L516.0,262.5 L517.8,261.7 L519.8,260.9 L521.9,260.1 L524.1,259.5 L526.4,259.0 L528.8,258.5 L531.4,258.2 L534.1,257.9 L537.0,257.7 L540.0,257.6Z" fill="#2259f5"/>
<rect x="540.0" y="256.60" width="59.4" height="1" fill="#2259f5" opacity="0.85"/>
<text x="541.6" y="255.9" textLength="56.4" lengthAdjust="spacing" class="kt">采用主动学习方式</text>
<path d="M550.7,285.9 L546.8,285.8 L543.1,285.6 L539.6,285.3 L536.3,285.0 L533.1,284.5 L530.1,284.0 L527.2,283.4 L524.5,282.7 L522.0,282.0 L519.6,281.1 L517.2,280.1 L515.1,279.1 L513.0,278.0 L511.0,276.7 L509.1,275.4 L507.3,274.0 L505.5,272.5 L503.8,270.9 L501.6,273.3 L503.5,274.9 L505.4,276.4 L507.4,277.8 L509.5,279.1 L511.7,280.3 L514.0,281.4 L516.3,282.4 L518.8,283.3 L521.3,284.1 L524.0,284.7 L526.8,285.3 L529.8,285.8 L532.9,286.2 L536.1,286.5 L539.5,286.7 L543.1,286.9 L546.8,286.9 L550.7,286.9Z" fill="#2259f5"/>
<rect x="550.7" y="285.90" width="59.3" height="1" fill="#2259f5" opacity="0.85"/>
<text x="552.2" y="285.2" textLength="56.3" lengthAdjust="spacing" class="kt">应用间隔重复技术</text>
<path d="M511.9,325.9 L508.8,325.9 L505.8,326.0 L503.0,326.2 L500.3,326.4 L497.7,326.8 L495.3,327.3 L492.9,328.0 L490.7,328.7 L488.5,329.5 L486.5,330.5 L484.5,331.6 L482.6,332.8 L480.8,334.1 L479.0,335.6 L477.3,337.2 L475.7,338.9 L474.2,340.7 L472.7,342.7 L475.3,344.6 L476.7,342.7 L478.0,340.8 L479.4,339.2 L480.9,337.6 L482.4,336.2 L484.1,334.8 L485.7,333.6 L487.5,332.5 L489.4,331.5 L491.4,330.5 L493.5,329.7 L495.7,329.0 L498.1,328.4 L500.5,327.9 L503.2,327.5 L505.9,327.2 L508.8,327.0 L511.9,326.9Z" fill="#fb3e9d"/>
<rect x="511.9" y="325.90" width="51.0" height="1" fill="#fb3e9d" opacity="0.85"/>
<text x="513.4" y="325.2" textLength="48.3" lengthAdjust="spacing" class="kt">增强理解和记忆</text>
<path d="M511.9,346.5 L508.8,346.4 L505.9,346.3 L503.1,346.2 L500.5,346.1 L497.9,345.9 L495.6,345.7 L493.3,345.5 L491.1,345.3 L489.1,345.1 L487.1,344.8 L485.3,344.5 L483.5,344.3 L481.8,343.9 L480.2,343.6 L478.7,343.3 L477.2,342.9 L475.8,342.5 L474.4,342.1 L473.6,345.2 L475.0,345.6 L476.5,345.9 L478.1,346.2 L479.7,346.4 L481.4,346.7 L483.1,346.9 L485.0,347.1 L486.9,347.2 L488.9,347.3 L491.0,347.4 L493.2,347.5 L495.5,347.6 L497.9,347.6 L500.4,347.6 L503.1,347.6 L505.9,347.6 L508.8,347.6 L511.9,347.5Z" fill="#fb3e9d"/>
<rect x="511.9" y="346.50" width="86.0" height="1" fill="#fb3e9d" opacity="0.85"/>
<text x="513.4" y="345.8" textLength="82.9" lengthAdjust="spacing" class="kt">利用技术手段跟踪学习进度</text>
<path d="M511.9,367.8 L508.8,367.7 L505.9,367.4 L503.2,367.0 L500.6,366.5 L498.1,365.8 L495.8,365.0 L493.6,364.0 L491.5,362.9 L489.5,361.6 L487.7,360.2 L485.9,358.6 L484.2,356.9 L482.6,355.0 L481.0,352.9 L479.6,350.7 L478.1,348.3 L476.8,345.7 L475.5,342.9 L472.5,344.4 L474.0,347.2 L475.6,349.8 L477.2,352.2 L478.9,354.5 L480.6,356.6 L482.5,358.5 L484.4,360.3 L486.3,361.9 L488.4,363.3 L490.6,364.5 L492.8,365.6 L495.2,366.5 L497.7,367.3 L500.3,367.9 L503.0,368.3 L505.8,368.6 L508.8,368.8 L511.9,368.8Z" fill="#fb3e9d"/>
<rect x="511.9" y="367.80" width="86.0" height="1" fill="#fb3e9d" opacity="0.85"/>
<text x="513.4" y="367.1" textLength="82.9" lengthAdjust="spacing" class="kt">探索智能设备上的辅助工具</text>
<path d="M598.3,316.2 Q603.2,316.5 603.2,326 L603.2,337 Q603.2,342.2 607.5,342.6 Q603.2,343 603.2,348 L603.2,360 Q603.2,369 598.3,369.4" fill="none" stroke="#fb3e9d" stroke-width="0.9"/>
<rect x="607" y="325.6" width="81.4" height="34.3" rx="15.5" fill="#fb3e9d"/>
<text x="613" y="338.0" textLength="67.8" lengthAdjust="spacing" class="st">充分利用互联网资源和多</text>
<text x="613" y="344.8" textLength="67.8" lengthAdjust="spacing" class="st">媒体资料，使用各类学习</text>
<text x="613" y="351.5" textLength="61.6" lengthAdjust="spacing" class="st">应用程序来协助学习。</text>
<rect x="272.0" y="105.0" width="52.5" height="17.0" rx="8.5" fill="#2259f5"/>
<text x="298.2" y="116.0" text-anchor="middle" class="pt">保持身心健康</text>
<rect x="253.6" y="159.3" width="37.8" height="16.0" rx="8.0" fill="#fb3e9d"/>
<text x="272.5" y="169.8" text-anchor="middle" class="pt">社交学习</text>
<rect x="284.7" y="213.4" width="38.3" height="16.6" rx="8.3" fill="#2259f5"/>
<text x="303.9" y="224.2" text-anchor="middle" class="pt">自我激励</text>
<rect x="252.0" y="270.0" width="60.0" height="17.0" rx="8.5" fill="#fb3e9d"/>
<text x="282.0" y="281.0" text-anchor="middle" class="pt">多样化学习方法</text>
<rect x="313.0" y="334.0" width="46.0" height="17.6" rx="8.8" fill="#2259f5"/>
<text x="336.0" y="345.3" text-anchor="middle" class="pt">反思与调整</text>
<rect x="448.3" y="85.7" width="72.7" height="17.1" rx="8.5" fill="#fb3e9d"/>
<text x="484.6" y="96.8" text-anchor="middle" class="pt">制定明确的学习目标</text>
<rect x="457.8" y="140.8" width="52.6" height="17.9" rx="8.9" fill="#2259f5"/>
<text x="484.1" y="152.2" text-anchor="middle" class="pt">制定学习计划</text>
<rect x="457.0" y="214.5" width="73.0" height="17.1" rx="8.5" fill="#fb3e9d"/>
<text x="493.5" y="225.6" text-anchor="middle" class="pt">创造良好的学习环境</text>
<rect x="456.0" y="263.2" width="51.7" height="17.8" rx="8.9" fill="#2259f5"/>
<text x="481.9" y="274.6" text-anchor="middle" class="pt">优化学习方法</text>
<rect x="427.4" y="335.0" width="51.6" height="17.3" rx="8.7" fill="#fb3e9d"/>
<text x="453.2" y="346.1" text-anchor="middle" class="pt">利用技术工具</text>
<rect x="346.6" y="215.9" width="80" height="45.7" rx="22.85" fill="#2488f3"/>
<rect x="347.5" y="216.8" width="78.2" height="43.9" rx="21.95" fill="#ffffff"/>
<rect x="348.8" y="218.1" width="75.6" height="41.3" rx="20.65" fill="url(#rootg)"/>
<text x="387" y="236.2" text-anchor="middle" class="rt">自我提高</text>
<text x="387" y="249" text-anchor="middle" class="rt">学习效率</text>
<g>
<path d="M294.8,92.6 h10.4 v2.6 q0,1.8 -1.6,2.6 l-1.2,1 q-2.4,1 -4.8,0 l-1.2,-1 q-1.6,-0.8 -1.6,-2.6z" fill="#d5d8df" stroke="#8e929c" stroke-width="0.45"/>
<path d="M295,94.5h10M295.2,96h9.6M296.6,97.6h6.8" stroke="#7f8490" stroke-width="0.7"/>
<circle cx="299.9" cy="85.2" r="8.9" fill="url(#bulbg)" stroke="#a3a39c" stroke-width="0.7"/>
<path d="M301.3,79.3 l-4.6,6.5 h3 l-1.5,5.2 l5.2,-7 h-3.2 z" fill="#ff9a1a"/>
<g fill="#ffa92a"><circle cx="292.7" cy="77.4" r="0.75"/><circle cx="306.6" cy="77.4" r="0.75"/><circle cx="289.4" cy="82.8" r="0.75"/><circle cx="310.2" cy="82.8" r="0.75"/><circle cx="289.4" cy="88.5" r="0.75"/><circle cx="310.2" cy="88.5" r="0.75"/></g>
</g>
<g>
<path d="M179,165.5 l-4.2,2.7" stroke="#d4ae78" stroke-width="1.1" stroke-linecap="round"/>
<circle cx="175.2" cy="168.1" r="0.6" fill="#3a2018"/>
<circle cx="172.5" cy="164.5" r="1.7" fill="#fff4d8" stroke="#e6c88e" stroke-width="0.35"/>
<path d="M170.3,169.4 q0,-2.8 2.2,-2.8 q2.2,0 2.2,2.8z" fill="#fbe2aa" stroke="#e6c88e" stroke-width="0.25"/>
<path d="M168.2,169 h12.9 l-1.3,6.9 h-10.3z" fill="#de842a"/>
<path d="M170.6,169.6 l1.3,4.8 l1.3,-4.8z M176.2,169.6 l1.3,4.8 l1.3,-4.8z" fill="#c46a18"/>
<g fill="#fbdf9f"><path d="M163.6,177.8 q0.6,-4.6 4,-4.6 q3.4,0 3.4,4.6z"/><path d="M171.2,177.8 q0,-4.6 3.5,-4.6 q3.5,0 3.5,4.6z"/><path d="M178.6,177.8 q0,-4.6 3.4,-4.6 q3.4,0 4,4.6z"/></g>
<g fill="#fff6dc" stroke="#e9cd96" stroke-width="0.35"><circle cx="167.5" cy="171.6" r="1.55"/><circle cx="174.6" cy="171.4" r="1.55"/><circle cx="182.1" cy="171.6" r="1.55"/></g>
<g fill="#47231a"><rect x="165.3" y="176.8" width="4.8" height="3.3" rx="1.2"/><rect x="172.4" y="176.8" width="4.6" height="3.3" rx="1.2"/><rect x="179.9" y="176.8" width="4.8" height="3.3" rx="1.2"/></g>
</g>
<g>
<path d="M180.3,320.6 q0,-1 1,-1.1 l10.3,-0.4 l10.3,0.4 q1,0.1 1,1.1 v14 q0,1 -1,1 h-20.6 q-1,0 -1,-1z" fill="#a87d55"/>
<path d="M181.7,320.3 q5,-1.4 9.6,0 v14.2 q-4.6,-1.2 -9.6,0z" fill="#fbfcff" stroke="#8d8f99" stroke-width="0.35"/>
<path d="M201.6,320.3 q-5,-1.4 -9.6,0 v14.2 q4.6,-1.2 9.6,0z" fill="#f1f3fa" stroke="#8d8f99" stroke-width="0.35"/>
<rect x="183.3" y="322.2" width="6.6" height="2.2" fill="#8a90b4"/><rect x="183.3" y="326" width="6.6" height="3.6" fill="#c4c8da"/>
<rect x="193.4" y="322.4" width="6.4" height="6" fill="#b9bed4"/>
<rect x="191.2" y="319.6" width="0.9" height="15.6" fill="#6f6f78"/>
</g>
<g>
<path d="M571.6,94.2 h14.3 q1,0 1,1 v20.2 q0,1 -1,1 h-18.3 q-1,0 -1,-1 v-16.4z" fill="url(#pageg)" stroke="#858a96" stroke-width="0.6"/>
<path d="M571.6,94.2 v4.2 q0,0.6 -0.6,0.6 h-4.4z" fill="#ffffff" stroke="#858a96" stroke-width="0.5"/>
<rect x="569.9" y="102.4" width="5.4" height="1.7" fill="#8e94b8"/><rect x="569.9" y="106.2" width="4.6" height="2.4" fill="#c5c9d8"/>
<path d="M575.3,109.9 l1,-2.7 l10.7,-10 l1.6,1.7 l-10.7,10z" fill="#f6b93f" stroke="#c98a1c" stroke-width="0.3"/>
<path d="M587,97 l1.2,-1.1 q0.7,-0.5 1.3,0.1 l0.6,0.7 q0.5,0.7 -0.1,1.2 l-1.1,1.1z" fill="#e0505a"/>
<path d="M575.3,109.9 l0.5,-1.4 l0.9,1z" fill="#444"/>
</g>
<g>
<g fill="#2aa9e0" stroke="#1b8fc4" stroke-width="0.3"><rect x="427.5" y="212.4" width="3.3" height="6.5" rx="0.6"/><rect x="433.9" y="209" width="3.3" height="9.9" rx="0.6"/><rect x="440.3" y="206" width="3.3" height="12.9" rx="0.6"/><rect x="446.5" y="203" width="3.4" height="15.9" rx="0.6"/></g>
<path d="M427.8,218.9 Q441.5,217.6 443.7,202.7 h-2.2 l4,-4.6 l4,4.6 h-2.3 Q444.8,218.9 428,219.7z" fill="url(#arrg)" stroke="#fff" stroke-opacity=".55" stroke-width="0.3"/>
</g>
<g>
<rect x="619.2" y="305" width="19.8" height="18.2" rx="1.2" fill="#4b2e22"/>
<rect x="620.4" y="306.2" width="17.4" height="15.8" rx="0.5" fill="url(#bbg)"/>
<rect x="621.5" y="321" width="3.6" height="0.9" fill="#e8f6f0"/>
<rect x="618" y="322.7" width="22.2" height="1.9" rx="0.9" fill="#e58a2a" stroke="#a85e17" stroke-width="0.3"/>
<text x="629.2" y="316.6" text-anchor="middle" font-size="6" font-weight="700" fill="#fff" font-family="'Liberation Sans',sans-serif">1+1</text>
</g>
</svg>
<div class="a tb"></div>
<svg class="a" style="left:36px;top:20px" width="52" height="19" viewBox="36 20 52 19">
<defs><linearGradient id="lg" x1="1" x2="0" y1="0" y2="1"><stop offset="0" stop-color="#2fb4ff"/><stop offset="0.55" stop-color="#1476f2"/><stop offset="1" stop-color="#0a55de"/></linearGradient>
<linearGradient id="lg2" x1="0" x2="1" y1="0" y2="1"><stop offset="0" stop-color="#0d3fb4"/><stop offset="1" stop-color="#155fe0"/></linearGradient></defs>
<path d="M50.7,26 A5.8,5.8 0 1 0 51.7,30.6" fill="none" stroke="url(#lg)" stroke-width="3.3"/>
<path d="M50.6,23 l3.4,3.6 l-3.6,0.6z" fill="#eef4fb"/>
<path d="M47.3,27.9 H53.45 Q53.6,31.8 51.2,34.6 L49.2,31.1 H47.3z" fill="url(#lg2)"/>
<text x="42.2" y="30.5" font-size="3.2" font-weight="700" fill="#1a6ae6" font-family="'Liberation Sans',sans-serif" textLength="5">MG</text>
<text x="56.6" y="27.2" font-size="4.8" fill="#4aa2fb" font-weight="500" font-family="'Liberation Sans','Noto Sans CJK SC',sans-serif" textLength="18.8">图形天下</text>
<text x="56.5" y="34.7" font-size="6.7" fill="#1a4db8" font-weight="900" font-family="'Liberation Sans','Noto Sans CJK SC',sans-serif" textLength="26.8">思维导图</text>
</svg>
<svg class="a" style="left:98.5px;top:26px" width="8" height="7" viewBox="0 0 8 7"><path d="M0.4,1h7M0.4,3.5h7M0.4,6h7" stroke="#3a3a3a" stroke-width="0.75" stroke-linecap="round"/></svg>
<div class="ico" style="left:117.8px"><svg viewBox="0 0 8 8"><path d="M1.6,0.8h3.1l1.8,1.9v4.5h-4.9z" fill="none" stroke="#222" stroke-width="0.75" stroke-linejoin="round"/><path d="M4.6,0.9v1.9h1.8" fill="none" stroke="#222" stroke-width="0.6"/></svg></div>
<div class="tbl" style="left:117.8px">新建</div>
<div class="ico" style="left:132.9px"><svg viewBox="0 0 8 8"><path d="M1,6.6v-5.2h2.2l0.7,0.9h2.6v1.2" fill="none" stroke="#222" stroke-width="0.75" stroke-linejoin="round"/><path d="M1,6.6l1.1,-3.1h5.2l-1.1,3.1z" fill="none" stroke="#222" stroke-width="0.75" stroke-linejoin="round"/></svg></div>
<div class="tbl" style="left:132.9px">打开</div>
<div class="ico" style="left:148.3px"><svg viewBox="0 0 8 8"><path d="M1.1,1.1h4.6l1.2,1.2v4.6h-5.8z" fill="none" stroke="#222" stroke-width="0.75" stroke-linejoin="round"/><path d="M2.5,1.2v1.8h2.6v-1.8M2.4,6.8v-2.4h3.2v2.4" fill="none" stroke="#222" stroke-width="0.65"/></svg></div>
<div class="tbl" style="left:148.3px">保存</div>
<div class="vd" style="left:159px"></div>
<div class="ico" style="left:168.0px"><svg viewBox="0 0 8 8"><path d="M2.9,0.9l-1.7,1.6l1.7,1.6" fill="none" stroke="#222" stroke-width="0.8" stroke-linecap="round" stroke-linejoin="round"/><path d="M1.4,2.5h3.1a2.1,2.1 0 0 1 0,4.2h-2.7" fill="none" stroke="#222" stroke-width="0.8" stroke-linecap="round"/></svg></div>
<div class="tbl" style="left:168.0px">撤销</div>
<div class="ico" style="left:183.4px"><svg viewBox="0 0 8 8"><path d="M5.1,0.9l1.7,1.6l-1.7,1.6" fill="none" stroke="#c3cfdf" stroke-width="0.8" stroke-linecap="round" stroke-linejoin="round"/><path d="M6.6,2.5h-3.1a2.1,2.1 0 0 0 0,4.2h2.7" fill="none" stroke="#c3cfdf" stroke-width="0.8" stroke-linecap="round"/></svg></div>
<div class="tbl dis" style="left:183.4px">重做</div>
<svg class="a" style="left:191px;top:24.5px" width="8.6" height="8.6" viewBox="0 0 8.6 8.6"><circle cx="4.3" cy="4.3" r="3.6" fill="#fff" stroke="#8b8f94" stroke-width="0.6"/><path d="M2.5,4.4l1.4,1.5l2.5,-3.1" fill="none" stroke="#21b23a" stroke-width="1" stroke-linecap="round" stroke-linejoin="round"/></svg>
<div class="a" style="left:200.8px;top:26.2px;font-size:4.4px;line-height:5px;color:#1d1d1d;white-space:nowrap;font-weight:500">已保存</div>
<div class="ico" style="left:293.4px"><svg viewBox="0 0 8 8"><rect x="1.7" y="1.2" width="5.2" height="2.7" rx="1.3" fill="none" stroke="#c3cfdf" stroke-width="0.7"/><path d="M4,3.9q-0.2,1.6 -1.8,2.4" fill="none" stroke="#c3cfdf" stroke-width="0.7" stroke-linecap="round"/></svg></div>
<div class="tbl dis" style="left:293.4px">格式刷</div>
<div class="vd" style="left:302.4px"></div>
<div class="ico" style="left:312.7px"><svg viewBox="0 0 8 8"><rect x="2.6" y="1" width="4.2" height="2.6" rx="1.2" fill="none" stroke="#c3cfdf" stroke-width="0.7"/><path d="M2.6,2.3h-1.3v3.6h1.5" fill="none" stroke="#c3cfdf" stroke-width="0.7"/><rect x="2.8" y="4.6" width="4" height="2.4" rx="1.1" fill="none" stroke="#c3cfdf" stroke-width="0.7"/></svg></div>
<div class="tbl dis" style="left:312.7px">主题</div>
<div class="ico" style="left:328.0px"><svg viewBox="0 0 8 8"><rect x="0.8" y="1" width="4.2" height="2.6" rx="1.2" fill="none" stroke="#c3cfdf" stroke-width="0.7"/><path d="M2.9,3.6v2.2h1.3" fill="none" stroke="#c3cfdf" stroke-width="0.7"/><rect x="4.2" y="4.6" width="3.2" height="2.4" rx="1.1" fill="none" stroke="#c3cfdf" stroke-width="0.7"/></svg></div>
<div class="tbl dis" style="left:328.0px">子主题</div>
<div class="ico" style="left:343.4px"><svg viewBox="0 0 8 8"><path d="M1.2,1h1.6M1.2,4h1.6M1.2,7h1.6" stroke="#c3cfdf" stroke-width="0.7"/><path d="M3.8,0.8q1,0 1,1v4.4q0,1 -1,1M4.8,4h1" fill="none" stroke="#c3cfdf" stroke-width="0.7"/><path d="M6,2.9l1.4,1.1l-1.4,1.1z" fill="#c3cfdf"/></svg></div>
<div class="tbl dis" style="left:343.4px">概要</div>
<div class="ico" style="left:358.7px"><svg viewBox="0 0 8 8"><rect x="1.2" y="1.2" width="5.6" height="5.6" fill="none" stroke="#c3cfdf" stroke-width="0.7" stroke-dasharray="1.2 0.9"/><rect x="2.9" y="2.9" width="2.2" height="2.2" fill="#c3cfdf" opacity=".6"/></svg></div>
<div class="tbl dis" style="left:358.7px">外框</div>
<div class="ico" style="left:374.0px"><svg viewBox="0 0 8 8"><path d="M1.4,6.2q1.2,-3.2 2.8,-2.4q1.6,0.8 2.6,-1.9" fill="none" stroke="#c3cfdf" stroke-width="0.75"/><path d="M5.6,1.6l1.5,-0.2l-0.1,1.6" fill="none" stroke="#c3cfdf" stroke-width="0.7"/><circle cx="1.4" cy="6.2" r="0.7" fill="#c3cfdf"/></svg></div>
<div class="tbl dis" style="left:374.0px">关系线</div>
<div class="ico" style="left:390.3px"><svg viewBox="0 0 8 8"><path d="M4,0.8v6.4M0.8,4h6.4" stroke="#c3cfdf" stroke-width="0.7"/></svg></div>
<div class="tbl dis" style="left:390.3px">插入</div>
<svg class="a" style="left:396px;top:27.8px" width="3.6" height="2.6" viewBox="0 0 3.6 2.6"><path d="M0.5,0.5l1.3,1.4l1.3,-1.4" fill="none" stroke="#222" stroke-width="0.75" stroke-linecap="round" stroke-linejoin="round"/></svg>
<div class="vd" style="left:402.6px"></div>
<div class="ico" style="left:414.6px"><svg viewBox="0 0 8 8"><path d="M1.2,1.4q2.6,0.4 5.4,5.2M6.8,1.4q-2.8,0.4 -5.4,5.2" fill="none" stroke="#222" stroke-width="0.8" stroke-linecap="round"/><path d="M5.2,1l1.9,0.2l-0.4,1.8M5.4,7l1.6,-0.3l-0.3,-1.7" fill="none" stroke="#222" stroke-width="0.7"/></svg></div>
<div class="tbl" style="left:414.6px">一键美化</div>
<div class="ico" style="left:433.8px"><svg viewBox="0 0 8 8"><circle cx="2" cy="4" r="1.2" fill="none" stroke="#222" stroke-width="0.75"/><circle cx="6" cy="1.7" r="1.1" fill="none" stroke="#222" stroke-width="0.75"/><circle cx="6" cy="6.3" r="1.1" fill="none" stroke="#222" stroke-width="0.75"/><path d="M3.1,3.4l1.9,-1.2M3.1,4.6l1.9,1.2" stroke="#222" stroke-width="0.75"/></svg></div>
<div class="tbl" style="left:433.8px">一键布局</div>
<div class="ico" style="left:767.5px"><svg viewBox="0 0 8 8"><circle cx="3.6" cy="3.6" r="2.6" fill="none" stroke="#222" stroke-width="0.8"/><path d="M5.5,5.5l1.7,1.7" stroke="#222" stroke-width="0.9" stroke-linecap="round"/></svg></div>
<div class="tbl" style="left:767.5px">查找</div>
<div class="ico" style="left:783.0px"><svg viewBox="0 0 8 8"><path d="M1.4,3.8h5.2" stroke="#8a8f98" stroke-width="0.7"/></svg></div>
<div class="tbl" style="left:783.0px">更多</div>
<svg class="a" style="left:794.4px;top:21.8px" width="14.4" height="14.4" viewBox="0 0 14.4 14.4"><circle cx="7.2" cy="7.2" r="6.85" fill="#f2f2f2" stroke="#dadada" stroke-width="0.6"/><circle cx="7.2" cy="5.8" r="2.1" fill="none" stroke="#222" stroke-width="0.95"/><path d="M3.7,10.9q0.4,-3 3.5,-3q3.1,0 3.5,3" fill="none" stroke="#222" stroke-width="0.95" stroke-linecap="round"/></svg>
<div class="a lp"></div><div class="a lph"></div>
<div class="a" style="left:33px;top:44px;font-size:5.2px;line-height:6px;font-weight:500;color:#1c1c1c">大纲</div>
<svg class="a" style="left:102px;top:43.4px" width="16" height="8" viewBox="0 0 16 8"><path d="M4.1,1.4v3.2" stroke="#8c8c8c" stroke-width="1"/><path d="M2.9,3.6l1.2,1.3l1.2,-1.3z" fill="#8c8c8c"/><path d="M1.4,4.9q0.2,1.7 1.4,1.7h2.6q1.2,0 1.4,-1.7" fill="none" stroke="#9a9a9a" stroke-width="0.55"/><rect x="9.5" y="1.1" width="6" height="5.6" rx="0.9" fill="#d4d4d4" stroke="#9c9c9c" stroke-width="0.6"/><rect x="11.8" y="1.5" width="1.4" height="4.8" fill="#fff"/></svg>
<div class="a" style="left:119.8px;top:54.2px;width:2.3px;height:345px;background:#ececec"></div>
<div class="a" style="left:119.9px;top:54.6px;width:2.1px;height:268px;background:#c1c1c1"></div>
<div class="a" style="left:122px;top:39.4px;width:0.8px;height:360px;background:#dcdcdc"></div>
<div class="row r0" style="top:56.70px">自我 提高学习 效率</div>
<div class="row r1" style="top:69.00px">制定明确的学习目标</div>
<div class="row r2" style="top:80.25px">设定短期与长期目标</div>
<div class="row r2" style="top:91.50px">使用SMART原则</div>
<div class="row r1" style="top:102.75px">制定学习计划</div>
<div class="row r2" style="top:114.00px">设定具体的学习目标</div>
<div class="row r2" style="top:125.25px">制定实际可行的时间表</div>
<div class="row r1" style="top:136.50px">创造良好的学习环境</div>
<div class="row r2" style="top:147.75px">创建无干扰的学习空间</div>
<div class="row r2" style="top:159.00px">确保良好的物理条件</div>
<div class="row r1" style="top:170.25px">优化学习方法</div>
<div class="row r2" style="top:181.50px">采用主动学习方式</div>
<div class="row r2" style="top:192.75px">应用间隔重复技术</div>
<div class="row r1" style="top:204.00px">利用技术工具</div>
<div class="row r2" style="top:215.25px">增强理解和记忆</div>
<div class="row r2" style="top:226.50px">利用技术手段跟踪学习进度</div>
<div class="row r2" style="top:237.75px">探索智能设备上的辅助工具</div>
<div class="row r1" style="top:249.00px">保持身心健康</div>
<div class="row r2" style="top:260.25px">定期锻炼</div>
<div class="row r2" style="top:271.50px">确保充足睡眠</div>
<div class="row r2" style="top:282.75px">维持均衡饮食</div>
<div class="row r1" style="top:294.00px">社交学习</div>
<div class="row r2" style="top:305.25px">参与集体学习</div>
<div class="row r2" style="top:316.50px">寻求帮助</div>
<div class="row r2" style="top:327.75px">通过教授加深理解</div>
<div class="row r1" style="top:339.00px">自我激励</div>
<div class="row r2" style="top:350.25px">维持积极态度</div>
<div class="row r2" style="top:361.50px">设定奖励机制</div>
<div class="row r1" style="top:372.75px">多样化学习方法</div>
<div class="row r2" style="top:384.00px">应用主动学习策略</div>
<div class="row r2" style="top:395.25px">尝试不同的学习技巧</div>
<svg class="a" style="left:0;top:0" width="841" height="449" viewBox="0 0 841 449"><g fill="#1c1c1c"><path d="M31.6,60.50h3.6l-1.8,2.6z"/><path d="M38.1,72.90h3.2l-1.6,2.4z"/><circle cx="46.4" cy="85.45" r="1.15"/><circle cx="46.4" cy="96.70" r="1.15"/><path d="M38.1,106.65h3.2l-1.6,2.4z"/><circle cx="46.4" cy="119.20" r="1.15"/><circle cx="46.4" cy="130.45" r="1.15"/><path d="M38.1,140.40h3.2l-1.6,2.4z"/><circle cx="46.4" cy="152.95" r="1.15"/><circle cx="46.4" cy="164.20" r="1.15"/><path d="M38.1,174.15h3.2l-1.6,2.4z"/><circle cx="46.4" cy="186.70" r="1.15"/><circle cx="46.4" cy="197.95" r="1.15"/><path d="M38.1,207.90h3.2l-1.6,2.4z"/><circle cx="46.4" cy="220.45" r="1.15"/><circle cx="46.4" cy="231.70" r="1.15"/><circle cx="46.4" cy="242.95" r="1.15"/><path d="M38.1,252.90h3.2l-1.6,2.4z"/><circle cx="46.4" cy="265.45" r="1.15"/><circle cx="46.4" cy="276.70" r="1.15"/><circle cx="46.4" cy="287.95" r="1.15"/><path d="M38.1,297.90h3.2l-1.6,2.4z"/><circle cx="46.4" cy="310.45" r="1.15"/><circle cx="46.4" cy="321.70" r="1.15"/><circle cx="46.4" cy="332.95" r="1.15"/><path d="M38.1,342.90h3.2l-1.6,2.4z"/><circle cx="46.4" cy="355.45" r="1.15"/><circle cx="46.4" cy="366.70" r="1.15"/><path d="M38.1,376.65h3.2l-1.6,2.4z"/><circle cx="46.4" cy="389.20" r="1.15"/><circle cx="46.4" cy="400.45" r="1.15"/></g></svg>
<div class="card" style="left:124px;top:48px;width:15.4px;height:42px"></div>
<svg class="a" style="left:124px;top:48px" width="15.4" height="42" viewBox="0 0 15.4 42"><path d="M8.9,6.8l-2.4,2.6l2.4,2.6" fill="none" stroke="#333" stroke-width="0.8" stroke-linecap="round" stroke-linejoin="round"/><path d="M2.4,17.6h10.6" stroke="#e6e8ec" stroke-width="0.5"/><rect x="5.2" y="23.4" width="5.2" height="5.4" rx="0.9" fill="none" stroke="#1c6ff0" stroke-width="0.7"/><path d="M6.6,24.9h2.4M7.8,24.9v2.6" stroke="#1c6ff0" stroke-width="0.7"/></svg>
<div class="sl" style="left:131.8px;top:80.6px;color:#1c6ff0;font-weight:700">大纲</div>
<div class="card" style="left:698.7px;top:48px;width:14.9px;height:115.8px"></div>
<svg class="a" style="left:698.7px;top:48px" width="14.9" height="115.8" viewBox="0 0 14.9 115.8"><path d="M6.3,6.8l2.4,2.6l-2.4,2.6" fill="none" stroke="#333" stroke-width="0.8" stroke-linecap="round" stroke-linejoin="round"/><path d="M2.2,17.8h10.4" stroke="#e6e8ec" stroke-width="0.5"/><g fill="none" stroke="#1c6ff0" stroke-width="0.75"><rect x="4.3" y="24" width="6.3" height="6.4" rx="1.2"/><path d="M4.3,26.2h6.3M6.5,26.2v4.2"/></g><g fill="none" stroke="#2b2b2b" stroke-width="0.7"><path d="M7.3,41.5a3.3,3.3 0 1 0 0,6.6q0.9,0 0.9,-0.8q0,-0.4 -0.3,-0.8q-0.3,-0.6 0.5,-0.9h0.9a1.7,1.7 0 0 0 1.6,-1.7q-0.3,-2.4 -3.6,-2.4z"/><circle cx="5.6" cy="44.6" r="0.45"/><circle cx="6.9" cy="43.1" r="0.45"/><circle cx="8.8" cy="43.5" r="0.45"/></g><g fill="none" stroke="#2b2b2b" stroke-width="0.7"><circle cx="7.4" cy="63.6" r="3.1"/><path d="M5.9,64.4q1.5,1.5 3,0"/></g><circle cx="6.3" cy="62.7" r="0.45" fill="#2b2b2b"/><circle cx="8.5" cy="62.7" r="0.45" fill="#2b2b2b"/><g fill="none" stroke="#2b2b2b" stroke-width="0.7"><rect x="4.3" y="79.6" width="6.3" height="5.8" rx="0.9"/><path d="M4.5,84.2l1.8,-1.8l1.4,1.2l1.1,-0.9l1.6,1.4"/></g><circle cx="8.7" cy="81.4" r="0.5" fill="#2b2b2b"/><g fill="none" stroke="#2b2b2b" stroke-width="0.7"><rect x="4.2" y="98.4" width="2.7" height="2.7" rx="0.7"/><rect x="8" y="98.4" width="2.7" height="2.7" rx="0.7"/><rect x="4.2" y="102.2" width="2.7" height="2.7" rx="0.7"/><rect x="8" y="102.2" width="2.7" height="2.7" rx="0.7"/></g></svg>
<div class="sl" style="left:706.2px;top:80.4px;color:#1c6ff0;font-weight:700">布局</div>
<div class="sl" style="left:706.2px;top:99.2px;">样式</div>
<div class="sl" style="left:706.2px;top:117.8px;">图标</div>
<div class="sl" style="left:706.2px;top:136.6px;">贴纸</div>
<div class="sl" style="left:706.2px;top:155.6px;">风格</div>
<div class="card" style="left:127.3px;top:380.9px;width:92px;height:13px"></div>
<div class="a" style="left:131px;top:384.7px;font-size:4.5px;font-weight:500;line-height:5px;color:#222;white-space:nowrap">字数: 293</div>
<div class="a" style="left:155.6px;top:384.7px;font-size:4.5px;font-weight:500;line-height:5px;color:#222;white-space:nowrap">主题数: 42</div>
<div class="a" style="left:183.2px;top:383.4px;width:0.5px;height:8px;background:#e0e2e6"></div>
<svg class="a" style="left:187.6px;top:384.4px" width="27" height="6" viewBox="0 0 27 6"><rect x="0.9" y="1.3" width="4.4" height="3.2" rx="0.5" fill="none" stroke="#333" stroke-width="0.6"/><path d="M2,2.3h0.5M3,2.3h0.5M4,2.3h0.5M2,3.5h2.4" stroke="#333" stroke-width="0.5"/><path d="M11.6,5.2v-4h3.8M12.8,2.6h1.6" fill="none" stroke="#333" stroke-width="0.7"/><circle cx="23.6" cy="3" r="2.2" fill="none" stroke="#333" stroke-width="0.6"/><path d="M23.6,2.6v1.6" stroke="#333" stroke-width="0.6"/><circle cx="23.6" cy="1.9" r="0.35" fill="#333"/></svg>
<div class="card" style="left:606.4px;top:380px;width:107.4px;height:13.8px"></div>
<svg class="a" style="left:606.4px;top:380px" width="107.4" height="13.8" viewBox="0 0 107.4 13.8"><rect x="6.8" y="4.3" width="4.5" height="5.7" rx="2.1" fill="none" stroke="#333" stroke-width="0.7"/><path d="M6.8,7v-0.6a2.1,2.1 0 0 1 2.25,-2.1v2.7z" fill="#333"/><path d="M6.8,7h4.5" stroke="#333" stroke-width="0.5"/><path d="M16.9,3v8M69.3,3v8" stroke="#dfe3ea" stroke-width="0.6"/><path d="M22.6,7.1h4.2" stroke="#444" stroke-width="0.9"/><path d="M52.7,6.5l1.4,1.4l1.4,-1.4" fill="none" stroke="#333" stroke-width="0.75"/><path d="M60.4,7.1h4.6M62.7,4.8v4.6" stroke="#333" stroke-width="0.95"/><g fill="none" stroke="#333" stroke-width="0.75"><path d="M73.2,5.9v-1.4h1.4M76.8,4.5h1.4v1.4M78.2,8.3v1.4h-1.4M74.6,9.7h-1.4v-1.4"/><circle cx="75.7" cy="7.1" r="0.9"/><circle cx="86.2" cy="7.1" r="2.3"/><path d="M86.2,5.6v1.8"/><path d="M94.6,5l1.6,1.6M98.8,5l-1.6,1.6M94.6,9.2l1.6,-1.6M98.8,9.2l-1.6,-1.6" stroke-width="0.95"/><path d="M94.4,6.2v-1.4h1.4M97.6,4.8h1.4v1.4M99,8v1.4h-1.4M95.8,9.4h-1.4v-1.4" stroke-width="0.7"/></g></svg>
<div class="a" style="left:639.4px;top:384.8px;width:20px;text-align:center;font-size:5.2px;line-height:5px;color:#555">107%</div>
<div class="a" style="left:657px;top:384.6px;width:4px;height:4px"></div>
<div class="a" style="left:715.6px;top:39.4px;width:2.3px;height:360px;background:#d9d1d1"></div>
<div class="a rp"></div>
<div class="h" style="top:45.6px">图形布局</div>
<div class="tile sel" style="left:721.3px;top:55.0px"><svg viewBox="0 0 25.8 21.8"><defs><linearGradient id="t1" x1="0" x2="0" y1="0" y2="1"><stop offset="0" stop-color="#53c2ff"/><stop offset="1" stop-color="#1a8cf0"/></linearGradient></defs><path d="M10,11L7.6,6.7M10,11H7.6M10,11L7.6,15.7M16,11L18.4,6.7M16,11H18.4M16,11L18.4,15.7" stroke="#8d8d8d" stroke-width="0.4" fill="none"/><rect x="2.0" y="5.2" width="6.4" height="3.0" rx="1.5" fill="#fff" stroke="#6c6c6c" stroke-width="0.5"/><rect x="17.4" y="5.2" width="6.4" height="3.0" rx="1.5" fill="#fff" stroke="#6c6c6c" stroke-width="0.5"/><rect x="2.0" y="9.7" width="6.4" height="3.0" rx="1.5" fill="#fff" stroke="#6c6c6c" stroke-width="0.5"/><rect x="17.4" y="9.7" width="6.4" height="3.0" rx="1.5" fill="#fff" stroke="#6c6c6c" stroke-width="0.5"/><rect x="2.0" y="14.2" width="6.4" height="3.0" rx="1.5" fill="#fff" stroke="#6c6c6c" stroke-width="0.5"/><rect x="17.4" y="14.2" width="6.4" height="3.0" rx="1.5" fill="#fff" stroke="#6c6c6c" stroke-width="0.5"/><rect x="9.3" y="7.4" width="7.4" height="7.4" rx="0.6" fill="url(#t1)"/></svg></div>
<div class="tl" style="left:734.2px;top:77.9px">逻辑图</div>
<div class="tile" style="left:750.8px;top:55.0px"><svg viewBox="0 0 25.8 21.8"><defs><linearGradient id="t2" x1="0" x2="0" y1="0" y2="1"><stop offset="0" stop-color="#a63cff"/><stop offset="1" stop-color="#6a1ff0"/></linearGradient></defs><rect x="9.3" y="4.5" width="7.8" height="5.2" rx="0.5" fill="url(#t2)"/><path d="M13.2,9.7v2.6M13.2,12.2H8.2M13.2,12.2h4.4M13.2,12.3l-5,3.4M13.2,12.3l4.4,3.4" stroke="#8d8d8d" stroke-width="0.4" fill="none"/><rect x="2.4" y="10.8" width="5.8" height="2.7" rx="1.4" fill="#fff" stroke="#6c6c6c" stroke-width="0.5"/><rect x="2.4" y="14.4" width="5.8" height="2.7" rx="1.4" fill="#fff" stroke="#6c6c6c" stroke-width="0.5"/><rect x="17.6" y="10.8" width="5.8" height="2.7" rx="1.4" fill="#fff" stroke="#6c6c6c" stroke-width="0.5"/><rect x="17.6" y="14.4" width="5.8" height="2.7" rx="1.4" fill="#fff" stroke="#6c6c6c" stroke-width="0.5"/></svg></div>
<div class="tl" style="left:763.7px;top:77.9px">树状布局</div>
<div class="tile" style="left:780.3px;top:55.0px"><svg viewBox="0 0 25.8 21.8"><rect x="2.2" y="4.6" width="6.8" height="2.8" rx="0.5" fill="#ffa31a"/><path d="M9,6h12q2.4,0 2.4,2.3q0,2.3 -2.4,2.3h-14q-2.4,0 -2.4,2.4q0,2.4 2.4,2.4h14" stroke="#8d8d8d" stroke-width="0.4" fill="none"/><rect x="13.0" y="4.9" width="5.0" height="2.2" rx="1.1" fill="#fff" stroke="#6c6c6c" stroke-width="0.5"/><rect x="6.4" y="9.5" width="5.0" height="2.2" rx="1.1" fill="#fff" stroke="#6c6c6c" stroke-width="0.5"/><rect x="15.4" y="9.5" width="5.0" height="2.2" rx="1.1" fill="#fff" stroke="#6c6c6c" stroke-width="0.5"/><rect x="9.6" y="14.3" width="5.0" height="2.2" rx="1.1" fill="#fff" stroke="#6c6c6c" stroke-width="0.5"/><rect x="18.4" y="14.3" width="5.0" height="2.2" rx="1.1" fill="#fff" stroke="#6c6c6c" stroke-width="0.5"/></svg></div>
<div class="tl" style="left:793.2px;top:77.9px">时间线</div>
<div class="tile" style="left:721.3px;top:86.0px"><svg viewBox="0 0 25.8 21.8"><defs><radialGradient id="t4"><stop offset="0" stop-color="#b6ff3a"/><stop offset="1" stop-color="#4cc400"/></radialGradient></defs><circle cx="13" cy="11" r="7.9" fill="none" stroke="#c4c4c4" stroke-width="0.5"/><circle cx="13" cy="11" r="6.7" fill="#f3f3f3" stroke="#8d8d8d" stroke-width="0.6"/><circle cx="13" cy="11" r="5.5" fill="#fff" stroke="#8d8d8d" stroke-width="0.4"/><circle cx="13" cy="11" r="4.3" fill="url(#t4)" stroke="#3c9a00" stroke-width="0.3"/></svg></div>
<div class="tl" style="left:734.2px;top:108.9px">扇形放射图</div>
<div class="tile" style="left:750.8px;top:86.0px"><svg viewBox="0 0 25.8 21.8"><path d="M3.4,11.2h15M7.4,11.2l-2,-3.6M12,11.2l-2,-3.6M9.4,11.2l-2,3.6M14,11.2l-2,3.6" stroke="#8d8d8d" stroke-width="0.4" fill="none"/><path d="M2.2,10l1.8,1.2l-1.8,1.2z" fill="#ff8a5c"/><rect x="3.4" y="5.6" width="4.2" height="2.1" rx="1.1" fill="#fff" stroke="#6c6c6c" stroke-width="0.5"/><rect x="10.2" y="5.6" width="4.2" height="2.1" rx="1.1" fill="#fff" stroke="#6c6c6c" stroke-width="0.5"/><rect x="5.0" y="14.4" width="4.2" height="2.1" rx="1.1" fill="#fff" stroke="#6c6c6c" stroke-width="0.5"/><rect x="11.6" y="14.4" width="4.2" height="2.1" rx="1.1" fill="#fff" stroke="#6c6c6c" stroke-width="0.5"/><path d="M17.4,8.6h3q3.2,0.4 3.6,2.6q-0.4,2.2 -3.6,2.6h-3z" fill="#e3102a"/></svg></div>
<div class="tl" style="left:763.7px;top:108.9px">鱼骨图</div>
<div class="tile" style="left:780.3px;top:86.0px"><svg viewBox="0 0 25.8 21.8"><defs><linearGradient id="t6" x1="0" x2="1" y1="0" y2="0"><stop offset="0" stop-color="#ff6f7e"/><stop offset="1" stop-color="#ffb4bb"/></linearGradient></defs><rect x="4.6" y="4.6" width="5" height="12.6" fill="url(#t6)"/><path d="M9.6,4.6h11.4v12.6h-11.4M9.6,8.8h11.4M9.6,13h11.4M15.2,4.6v12.6" stroke="#9a9a9a" stroke-width="0.4" fill="none"/></svg></div>
<div class="tl" style="left:793.2px;top:108.9px">树型表格</div>
<div class="tile" style="left:721.3px;top:117.0px"><svg viewBox="0 0 25.8 21.8"><rect x="5.6" y="4.8" width="14.6" height="4" fill="#ff8f9a"/><path d="M5.6,8.8h14.6v8h-14.6zM12.9,8.8v8M5.6,12.4h14.6" stroke="#9a9a9a" stroke-width="0.4" fill="none"/><path d="M10.6,13.6l-2,1.2l2,1.2M18,13.6l-2,1.2l2,1.2" stroke="#8d8d8d" stroke-width="0.4" fill="none"/></svg></div>
<div class="tl" style="left:734.2px;top:139.9px">树型矩阵图</div>
<div class="tile" style="left:750.8px;top:117.0px"><svg viewBox="0 0 25.8 21.8"><rect x="3.4" y="8.2" width="7.4" height="5" rx="0.5" fill="#e0e000" stroke="#a8a800" stroke-width="0.3"/><path d="M14.6,5.6q-1.4,0 -1.4,1.4v2.4q0,1.2 -1.2,1.3q1.2,0.1 1.2,1.3v2.4q0,1.4 1.4,1.4" stroke="#8d8d8d" stroke-width="0.4" fill="none"/><rect x="16.6" y="4.6" width="4.6" height="2.2" rx="1.1" fill="#fff" stroke="#6c6c6c" stroke-width="0.5"/><rect x="16.6" y="9.6" width="4.6" height="2.2" rx="1.1" fill="#fff" stroke="#6c6c6c" stroke-width="0.5"/><rect x="16.6" y="14.6" width="4.6" height="2.2" rx="1.1" fill="#fff" stroke="#6c6c6c" stroke-width="0.5"/></svg></div>
<div class="tl" style="left:763.7px;top:139.9px">括号图</div>
<div class="tile" style="left:780.3px;top:117.0px"><svg viewBox="0 0 25.8 21.8"><defs><linearGradient id="t9" x1="0" x2="0" y1="0" y2="1"><stop offset="0" stop-color="#3b3bff"/><stop offset="1" stop-color="#0a0ad8"/></linearGradient></defs><rect x="9.2" y="4.4" width="7.4" height="4.6" rx="0.5" fill="url(#t9)"/><path d="M12.9,9v2.6M4.6,14v-2.4h16.6v2.4M12.9,11.6v2.4" stroke="#8d8d8d" stroke-width="0.4" fill="none"/><rect x="2.2" y="14.0" width="5.0" height="2.2" rx="1.1" fill="#fff" stroke="#6c6c6c" stroke-width="0.5"/><rect x="10.4" y="14.0" width="5.0" height="2.2" rx="1.1" fill="#fff" stroke="#6c6c6c" stroke-width="0.5"/><rect x="18.6" y="14.0" width="5.0" height="2.2" rx="1.1" fill="#fff" stroke="#6c6c6c" stroke-width="0.5"/></svg></div>
<div class="tl" style="left:793.2px;top:139.9px">组织架构图</div>
<div class="tile" style="left:721.3px;top:148.0px"><svg viewBox="0 0 25.8 21.8"><rect x="6" y="4.2" width="14.2" height="2.8" fill="#1fc400"/><rect x="6" y="7" width="14.2" height="1.2" fill="#8fe070"/><g fill="#cfcfcf"><rect x="8.4" y="9.4" width="11.8" height="1.5"/><rect x="8.4" y="11.8" width="11.8" height="1.5"/><rect x="8.4" y="14.2" width="11.8" height="1.5"/><rect x="8.4" y="16.4" width="11.8" height="1.2"/></g><path d="M7,8.4v8.6" stroke="#bbb" stroke-width="0.4"/></svg></div>
<div class="tl" style="left:734.2px;top:170.9px">大纲</div>
<div class="tile" style="left:750.8px;top:148.0px"><svg viewBox="0 0 25.8 21.8"><defs><linearGradient id="t11" x1="0" x2="0" y1="0" y2="1"><stop offset="0" stop-color="#13b68f"/><stop offset="1" stop-color="#7fe6cd"/></linearGradient></defs><rect x="5.8" y="4.4" width="14.4" height="4.6" fill="url(#t11)"/><path d="M5.8,9.6h14.4v7.8h-14.4zM5.8,12.2h14.4M5.8,14.8h14.4M13,12.2v5.2" stroke="#777" stroke-width="0.45" fill="none"/></svg></div>
<div class="tl" style="left:763.7px;top:170.9px">竖屏</div>
<div class="h" style="top:184.6px">布局方向</div>
<div class="btn" style="left:721.3px;top:195.0px"><svg viewBox="0 0 8 7"><path d="M4,3.5L7.2,0.8M4,3.5H7.5M4,3.5L7.2,6.2" stroke="#4a4a4a" stroke-width="0.4" fill="none"/><rect x="1.2" y="2.5" width="2.8" height="2" fill="#3a3aff"/></svg>向右</div>
<div class="btn" style="left:750.6px;top:195.0px"><svg viewBox="0 0 8 7"><path d="M4,3.5L0.8,0.8M4,3.5H0.5M4,3.5L0.8,6.2" stroke="#4a4a4a" stroke-width="0.4" fill="none"/><rect x="4.0" y="2.5" width="2.8" height="2" fill="#3a3aff"/></svg>向左</div>
<div class="btn sel" style="left:779.9px;top:195.0px"><svg viewBox="0 0 8 7"><path d="M5.4,3.5L7.7,0.9M5.4,3.5H7.9M5.4,3.5L7.7,6.1M2.6,3.5L0.3,0.9M2.6,3.5H0.1M2.6,3.5L0.3,6.1" stroke="#4a4a4a" stroke-width="0.4" fill="none"/><rect x="2.6" y="2.5" width="2.8" height="2" fill="#3a3aff"/></svg>左右</div>
<div class="btn" style="left:721.3px;top:210.6px"><svg viewBox="0 0 8 7"><path d="M2.7,2.2Q1,2.8 0.7,6.2M5.3,2.2Q7,2.8 7.3,6.2" stroke="#4a4a4a" stroke-width="0.4" fill="none"/><rect x="2.6" y="1.2" width="2.8" height="2" fill="#3a3aff"/></svg>向下</div>
<div class="btn" style="left:750.6px;top:210.6px"><svg viewBox="0 0 8 7"><path d="M4,4.4L0.9,0.9M4,4.4L2.9,0.6M4,4.4L5.1,0.6M4,4.4L7.1,0.9" stroke="#4a4a4a" stroke-width="0.4" fill="none"/><rect x="2.6" y="4.1" width="2.8" height="2" fill="#3a3aff"/></svg>向上</div>
<div class="btn" style="left:779.9px;top:210.6px"><svg viewBox="0 0 8 7"><path d="M4,3.5L1.2,0.3M4,3.5V0.2M4,3.5L6.8,0.3M4,3.5L1.2,6.7M4,3.5V6.8M4,3.5L6.8,6.7" stroke="#4a4a4a" stroke-width="0.4" fill="none"/><rect x="2.6" y="2.5" width="2.8" height="2" fill="#3a3aff"/></svg>上下</div>
<div class="h" style="top:232.1px">连线风格</div>
<div class="btn" style="left:721.3px;top:242.3px"><svg viewBox="0 0 8 7"><path d="M1.2,3.5L6.4,0.9M1.2,3.5L6.4,6.1" stroke="#9a9a9a" stroke-width="0.5" fill="none"/><path d="M1.2,3.5H7" stroke="#9dbdf6" stroke-width="0.65"/></svg>直线</div>
<div class="btn sel" style="left:750.6px;top:242.3px"><svg viewBox="0 0 8 7"><path d="M1.2,3.5q1.6,-2.4 5.2,-2.6M1.2,3.5q1.6,2.4 5.2,2.6" stroke="#9a9a9a" stroke-width="0.5" fill="none"/><path d="M1.2,3.5H7" stroke="#9dbdf6" stroke-width="0.65"/></svg>曲线A</div>
<div class="btn" style="left:779.9px;top:242.3px"><svg viewBox="0 0 8 7"><path d="M1.2,3.5q1.6,-2.4 5.2,-2.6M1.2,3.5q1.6,2.4 5.2,2.6" stroke="#9a9a9a" stroke-width="0.5" fill="none"/><path d="M1.2,3.5H7" stroke="#9dbdf6" stroke-width="0.65"/></svg>曲线B</div>
<div class="btn" style="left:721.3px;top:257.9px"><svg viewBox="0 0 8 7"><path d="M1.2,3.5h1.6v-2.5h3.6M2.8,3.5v2.5h3.6" stroke="#9a9a9a" stroke-width="0.5" fill="none"/><path d="M1.2,3.5H7" stroke="#9dbdf6" stroke-width="0.65"/></svg>正交</div>
<div class="btn" style="left:750.6px;top:257.9px"><svg viewBox="0 0 8 7"><path d="M1.2,3.5q1.6,-2.4 5.2,-2.6M1.2,3.5q1.6,2.4 5.2,2.6" stroke="#9a9a9a" stroke-width="0.5" fill="none"/><path d="M1.2,3.5H7" stroke="#2b6cf0" stroke-width="1.00"/></svg>曲线C</div>
<div class="btn" style="left:779.9px;top:257.9px"><svg viewBox="0 0 8 7"><path d="M1.2,3.5q1.6,-2.4 5.2,-2.6M1.2,3.5q1.6,2.4 5.2,2.6" stroke="#9a9a9a" stroke-width="0.5" fill="none"/><path d="M1.2,3.5H7" stroke="#2b6cf0" stroke-width="1.00"/></svg>曲线D</div>
<div class="h" style="top:279.5px">全局参数</div>
<div class="cb on" style="top:290.85px"><svg style="position:absolute;left:-0.55px;top:-0.55px" width="4.3" height="4.3" viewBox="0 0 4.3 4.3"><path d="M0.9,2.2l0.9,1l1.6,-2" fill="none" stroke="#fff" stroke-width="0.7"/></svg></div>
<div class="cbl" style="top:290.40px">分支自由布局</div>
<div class="cb" style="top:300.60px"></div>
<div class="cbl" style="top:300.15px">同级主题等宽</div>
<div class="cb" style="top:310.35px"></div>
<div class="cbl" style="top:309.90px">覆盖风格连线设置</div>
<div class="cbl" style="left:722.5px;top:320.8px">标注自动换行字数</div>
<div class="a" style="left:758.9px;top:319.7px;width:26.6px;height:7.9px;border:0.6px solid #767676;border-radius:0.8px;background:#fff;font-size:4.4px;line-height:6.6px;padding-left:1px;color:#222">0</div>
<div class="a" style="left:29px;top:39.2px;width:782px;height:2.2px;background:linear-gradient(rgba(60,70,90,.26),rgba(60,70,90,.06) 50%,rgba(60,70,90,0))"></div>
</div></div></body></html>
